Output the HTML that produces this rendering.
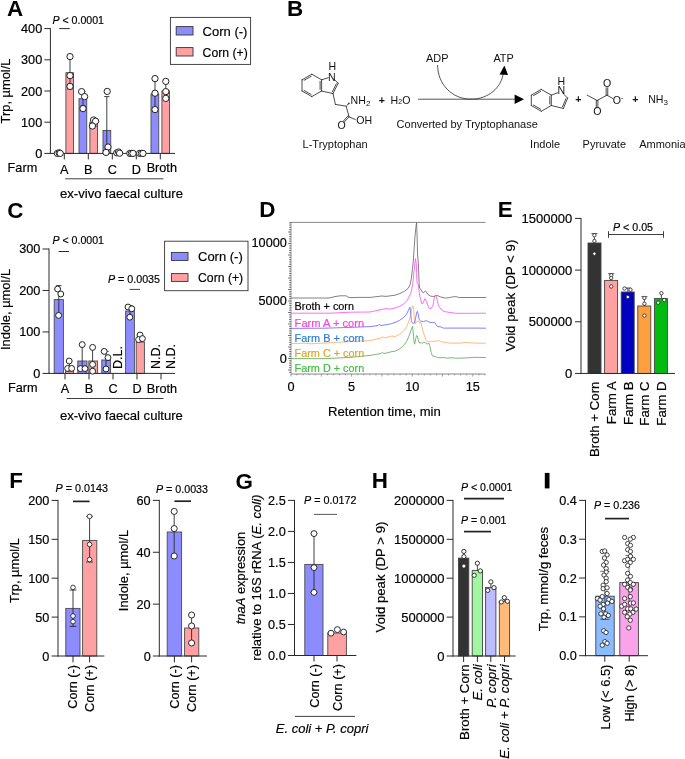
<!DOCTYPE html>
<html><head><meta charset="utf-8"><title>Figure</title>
<style>
html,body{margin:0;padding:0;background:#fff;}
svg{display:block;font-family:"Liberation Sans", sans-serif;will-change:transform;opacity:0.999;}
text{font-family:"Liberation Sans", sans-serif;}
</style></head><body>
<svg width="685" height="759" viewBox="0 0 685 759">
<rect x="0" y="0" width="685" height="759" fill="#ffffff"/>
<text x="6.90" y="16.20" font-size="22.4" text-anchor="start" fill="#000" font-weight="bold" >A</text>
<rect x="55.00" y="152.60" width="7.75" height="0.80" fill="#8c8cff" stroke="#4a4a4a" stroke-width="0.9"/>
<rect x="65.90" y="72.70" width="7.60" height="80.70" fill="#ffa0a3" stroke="#4a4a4a" stroke-width="0.9"/>
<rect x="79.00" y="98.70" width="7.75" height="54.70" fill="#8c8cff" stroke="#4a4a4a" stroke-width="0.9"/>
<rect x="89.90" y="122.20" width="7.60" height="31.20" fill="#ffa0a3" stroke="#4a4a4a" stroke-width="0.9"/>
<rect x="103.00" y="130.40" width="7.75" height="23.00" fill="#8c8cff" stroke="#4a4a4a" stroke-width="0.9"/>
<rect x="113.90" y="152.00" width="7.60" height="1.40" fill="#ffa0a3" stroke="#4a4a4a" stroke-width="0.9"/>
<rect x="151.00" y="94.00" width="7.75" height="59.40" fill="#8c8cff" stroke="#4a4a4a" stroke-width="0.9"/>
<rect x="161.90" y="91.00" width="7.60" height="62.40" fill="#ffa0a3" stroke="#4a4a4a" stroke-width="0.9"/>
<line x1="50.40" y1="28.10" x2="50.40" y2="153.90" stroke="#2a2a2a" stroke-width="1.0" stroke-linecap="butt"/>
<line x1="44.40" y1="153.40" x2="50.40" y2="153.40" stroke="#2a2a2a" stroke-width="1.0" stroke-linecap="butt"/>
<text x="42.20" y="157.90" font-size="12.7" text-anchor="end" fill="#000" stroke="#000" stroke-width="0.18" >0</text>
<line x1="44.40" y1="122.20" x2="50.40" y2="122.20" stroke="#2a2a2a" stroke-width="1.0" stroke-linecap="butt"/>
<text x="42.20" y="126.70" font-size="12.7" text-anchor="end" fill="#000" stroke="#000" stroke-width="0.18" >100</text>
<line x1="44.40" y1="91.00" x2="50.40" y2="91.00" stroke="#2a2a2a" stroke-width="1.0" stroke-linecap="butt"/>
<text x="42.20" y="95.50" font-size="12.7" text-anchor="end" fill="#000" stroke="#000" stroke-width="0.18" >200</text>
<line x1="44.40" y1="59.80" x2="50.40" y2="59.80" stroke="#2a2a2a" stroke-width="1.0" stroke-linecap="butt"/>
<text x="42.20" y="64.30" font-size="12.7" text-anchor="end" fill="#000" stroke="#000" stroke-width="0.18" >300</text>
<line x1="44.40" y1="28.60" x2="50.40" y2="28.60" stroke="#2a2a2a" stroke-width="1.0" stroke-linecap="butt"/>
<text x="42.20" y="33.10" font-size="12.7" text-anchor="end" fill="#000" stroke="#000" stroke-width="0.18" >400</text>
<line x1="49.90" y1="153.40" x2="175.00" y2="153.40" stroke="#2a2a2a" stroke-width="1.0" stroke-linecap="butt"/>
<line x1="64.30" y1="153.40" x2="64.30" y2="159.40" stroke="#2a2a2a" stroke-width="1.0" stroke-linecap="butt"/>
<line x1="88.30" y1="153.40" x2="88.30" y2="159.40" stroke="#2a2a2a" stroke-width="1.0" stroke-linecap="butt"/>
<line x1="112.30" y1="153.40" x2="112.30" y2="159.40" stroke="#2a2a2a" stroke-width="1.0" stroke-linecap="butt"/>
<line x1="136.30" y1="153.40" x2="136.30" y2="159.40" stroke="#2a2a2a" stroke-width="1.0" stroke-linecap="butt"/>
<line x1="160.30" y1="153.40" x2="160.30" y2="159.40" stroke="#2a2a2a" stroke-width="1.0" stroke-linecap="butt"/>
<line x1="70.00" y1="56.60" x2="70.00" y2="89.00" stroke="#2a2a2a" stroke-width="0.9" stroke-linecap="butt"/>
<line x1="67.40" y1="56.60" x2="72.60" y2="56.60" stroke="#2a2a2a" stroke-width="0.9" stroke-linecap="butt"/>
<line x1="67.40" y1="89.00" x2="72.60" y2="89.00" stroke="#2a2a2a" stroke-width="0.9" stroke-linecap="butt"/>
<line x1="83.00" y1="91.60" x2="83.00" y2="106.00" stroke="#2a2a2a" stroke-width="0.9" stroke-linecap="butt"/>
<line x1="80.40" y1="91.60" x2="85.60" y2="91.60" stroke="#2a2a2a" stroke-width="0.9" stroke-linecap="butt"/>
<line x1="80.40" y1="106.00" x2="85.60" y2="106.00" stroke="#2a2a2a" stroke-width="0.9" stroke-linecap="butt"/>
<line x1="94.20" y1="118.50" x2="94.20" y2="126.00" stroke="#2a2a2a" stroke-width="0.9" stroke-linecap="butt"/>
<line x1="91.60" y1="118.50" x2="96.80" y2="118.50" stroke="#2a2a2a" stroke-width="0.9" stroke-linecap="butt"/>
<line x1="91.60" y1="126.00" x2="96.80" y2="126.00" stroke="#2a2a2a" stroke-width="0.9" stroke-linecap="butt"/>
<line x1="106.80" y1="96.60" x2="106.80" y2="153.00" stroke="#2a2a2a" stroke-width="0.9" stroke-linecap="butt"/>
<line x1="104.20" y1="96.60" x2="109.40" y2="96.60" stroke="#2a2a2a" stroke-width="0.9" stroke-linecap="butt"/>
<line x1="104.20" y1="153.00" x2="109.40" y2="153.00" stroke="#2a2a2a" stroke-width="0.9" stroke-linecap="butt"/>
<line x1="155.00" y1="78.60" x2="155.00" y2="109.60" stroke="#2a2a2a" stroke-width="0.9" stroke-linecap="butt"/>
<line x1="152.40" y1="78.60" x2="157.60" y2="78.60" stroke="#2a2a2a" stroke-width="0.9" stroke-linecap="butt"/>
<line x1="152.40" y1="109.60" x2="157.60" y2="109.60" stroke="#2a2a2a" stroke-width="0.9" stroke-linecap="butt"/>
<line x1="165.80" y1="81.40" x2="165.80" y2="99.00" stroke="#2a2a2a" stroke-width="0.9" stroke-linecap="butt"/>
<line x1="163.20" y1="81.40" x2="168.40" y2="81.40" stroke="#2a2a2a" stroke-width="0.9" stroke-linecap="butt"/>
<line x1="163.20" y1="99.00" x2="168.40" y2="99.00" stroke="#2a2a2a" stroke-width="0.9" stroke-linecap="butt"/>
<circle cx="57.40" cy="153.40" r="3.15" fill="#fff" stroke="#222" stroke-width="1.0"/>
<circle cx="59.20" cy="152.80" r="3.15" fill="#fff" stroke="#222" stroke-width="1.0"/>
<circle cx="60.20" cy="153.40" r="3.15" fill="#fff" stroke="#222" stroke-width="1.0"/>
<circle cx="70.00" cy="56.60" r="3.15" fill="#fff" stroke="#222" stroke-width="1.0"/>
<circle cx="70.00" cy="75.60" r="3.15" fill="#fff" stroke="#222" stroke-width="1.0"/>
<circle cx="70.00" cy="86.40" r="3.15" fill="#fff" stroke="#222" stroke-width="1.0"/>
<circle cx="81.60" cy="91.60" r="3.15" fill="#fff" stroke="#222" stroke-width="1.0"/>
<circle cx="84.60" cy="96.60" r="3.15" fill="#fff" stroke="#222" stroke-width="1.0"/>
<circle cx="83.00" cy="108.60" r="3.15" fill="#fff" stroke="#222" stroke-width="1.0"/>
<circle cx="93.60" cy="120.00" r="3.15" fill="#fff" stroke="#222" stroke-width="1.0"/>
<circle cx="95.60" cy="121.20" r="3.15" fill="#fff" stroke="#222" stroke-width="1.0"/>
<circle cx="92.40" cy="126.00" r="3.15" fill="#fff" stroke="#222" stroke-width="1.0"/>
<circle cx="107.20" cy="91.40" r="3.15" fill="#fff" stroke="#222" stroke-width="1.0"/>
<circle cx="108.00" cy="147.00" r="3.15" fill="#fff" stroke="#222" stroke-width="1.0"/>
<circle cx="106.00" cy="152.40" r="3.15" fill="#fff" stroke="#222" stroke-width="1.0"/>
<circle cx="116.80" cy="152.80" r="3.15" fill="#fff" stroke="#222" stroke-width="1.0"/>
<circle cx="118.60" cy="152.00" r="3.15" fill="#fff" stroke="#222" stroke-width="1.0"/>
<circle cx="119.60" cy="153.20" r="3.15" fill="#fff" stroke="#222" stroke-width="1.0"/>
<circle cx="129.80" cy="153.40" r="3.15" fill="#fff" stroke="#222" stroke-width="1.0"/>
<circle cx="131.40" cy="153.40" r="3.15" fill="#fff" stroke="#222" stroke-width="1.0"/>
<circle cx="133.00" cy="153.40" r="3.15" fill="#fff" stroke="#222" stroke-width="1.0"/>
<circle cx="139.60" cy="153.40" r="3.15" fill="#fff" stroke="#222" stroke-width="1.0"/>
<circle cx="141.40" cy="153.40" r="3.15" fill="#fff" stroke="#222" stroke-width="1.0"/>
<circle cx="143.00" cy="153.40" r="3.15" fill="#fff" stroke="#222" stroke-width="1.0"/>
<circle cx="155.00" cy="78.60" r="3.15" fill="#fff" stroke="#222" stroke-width="1.0"/>
<circle cx="155.00" cy="93.20" r="3.15" fill="#fff" stroke="#222" stroke-width="1.0"/>
<circle cx="155.00" cy="109.60" r="3.15" fill="#fff" stroke="#222" stroke-width="1.0"/>
<circle cx="165.80" cy="81.40" r="3.15" fill="#fff" stroke="#222" stroke-width="1.0"/>
<circle cx="165.80" cy="91.60" r="3.15" fill="#fff" stroke="#222" stroke-width="1.0"/>
<circle cx="165.80" cy="98.40" r="3.15" fill="#fff" stroke="#222" stroke-width="1.0"/>
<text x="7.60" y="172.40" font-size="12.7" text-anchor="start" fill="#000" stroke="#000" stroke-width="0.18" >Farm</text>
<text x="64.30" y="173.80" font-size="12.7" text-anchor="middle" fill="#000" stroke="#000" stroke-width="0.18" >A</text>
<text x="88.30" y="173.80" font-size="12.7" text-anchor="middle" fill="#000" stroke="#000" stroke-width="0.18" >B</text>
<text x="112.30" y="173.80" font-size="12.7" text-anchor="middle" fill="#000" stroke="#000" stroke-width="0.18" >C</text>
<text x="136.30" y="173.80" font-size="12.7" text-anchor="middle" fill="#000" stroke="#000" stroke-width="0.18" >D</text>
<text x="161.80" y="171.70" font-size="12.7" text-anchor="middle" fill="#000" stroke="#000" stroke-width="0.18" >Broth</text>
<line x1="65.20" y1="178.80" x2="163.40" y2="178.80" stroke="#2a2a2a" stroke-width="0.9" stroke-linecap="butt"/>
<text x="60.00" y="198.40" font-size="13.1" text-anchor="start" fill="#000" stroke="#000" stroke-width="0.18" >ex-vivo faecal culture</text>
<text x="52.40" y="24.20" font-size="11.6" text-anchor="start" fill="#000" textLength="51.6" lengthAdjust="spacingAndGlyphs" stroke="#000" stroke-width="0.18" ><tspan font-style="italic">P</tspan> &lt; 0.0001</text>
<line x1="59.20" y1="28.60" x2="69.80" y2="28.60" stroke="#2a2a2a" stroke-width="1.0" stroke-linecap="butt"/>
<rect x="170.4" y="17.4" width="80.2" height="47" fill="#fff" stroke="#333" stroke-width="0.9"/>
<rect x="176.20" y="26.60" width="16.80" height="8.40" fill="#8c8cff" stroke="#333" stroke-width="0.9"/>
<rect x="176.20" y="47.60" width="16.80" height="8.40" fill="#ffa0a3" stroke="#333" stroke-width="0.9"/>
<text x="202.60" y="36.00" font-size="13" text-anchor="start" fill="#000" stroke="#000" stroke-width="0.18" >Corn (-)</text>
<text x="202.60" y="57.20" font-size="13" text-anchor="start" fill="#000" textLength="45.2" lengthAdjust="spacingAndGlyphs" stroke="#000" stroke-width="0.18" >Corn (+)</text>
<text x="10.20" y="91.00" font-size="12.9" text-anchor="middle" fill="#000" transform="rotate(-90 10.20 91.00)" stroke="#000" stroke-width="0.18" >Trp, µmol/L</text>
<text x="7.20" y="217.50" font-size="22.4" text-anchor="start" fill="#000" font-weight="bold" >C</text>
<rect x="54.20" y="299.60" width="9.20" height="73.80" fill="#8c8cff" stroke="#4a4a4a" stroke-width="0.9"/>
<rect x="65.60" y="371.00" width="8.00" height="2.40" fill="#ffa0a3" stroke="#4a4a4a" stroke-width="0.9"/>
<rect x="77.80" y="361.00" width="9.20" height="12.40" fill="#8c8cff" stroke="#4a4a4a" stroke-width="0.9"/>
<rect x="88.80" y="361.00" width="8.80" height="12.40" fill="#ffa0a3" stroke="#4a4a4a" stroke-width="0.9"/>
<rect x="101.80" y="360.00" width="8.80" height="13.40" fill="#8c8cff" stroke="#4a4a4a" stroke-width="0.9"/>
<rect x="125.60" y="311.00" width="8.80" height="62.40" fill="#8c8cff" stroke="#4a4a4a" stroke-width="0.9"/>
<rect x="136.20" y="342.00" width="8.20" height="31.40" fill="#ffa0a3" stroke="#4a4a4a" stroke-width="0.9"/>
<line x1="49.00" y1="248.50" x2="49.00" y2="373.90" stroke="#2a2a2a" stroke-width="1.0" stroke-linecap="butt"/>
<line x1="42.50" y1="373.40" x2="49.00" y2="373.40" stroke="#2a2a2a" stroke-width="1.0" stroke-linecap="butt"/>
<text x="40.30" y="377.90" font-size="12.7" text-anchor="end" fill="#000" stroke="#000" stroke-width="0.18" >0</text>
<line x1="42.50" y1="331.93" x2="49.00" y2="331.93" stroke="#2a2a2a" stroke-width="1.0" stroke-linecap="butt"/>
<text x="40.30" y="336.43" font-size="12.7" text-anchor="end" fill="#000" stroke="#000" stroke-width="0.18" >100</text>
<line x1="42.50" y1="290.46" x2="49.00" y2="290.46" stroke="#2a2a2a" stroke-width="1.0" stroke-linecap="butt"/>
<text x="40.30" y="294.96" font-size="12.7" text-anchor="end" fill="#000" stroke="#000" stroke-width="0.18" >200</text>
<line x1="42.50" y1="248.99" x2="49.00" y2="248.99" stroke="#2a2a2a" stroke-width="1.0" stroke-linecap="butt"/>
<text x="40.30" y="253.49" font-size="12.7" text-anchor="end" fill="#000" stroke="#000" stroke-width="0.18" >300</text>
<line x1="48.50" y1="373.40" x2="175.00" y2="373.40" stroke="#2a2a2a" stroke-width="1.0" stroke-linecap="butt"/>
<line x1="65.00" y1="373.40" x2="65.00" y2="379.40" stroke="#2a2a2a" stroke-width="1.0" stroke-linecap="butt"/>
<line x1="89.00" y1="373.40" x2="89.00" y2="379.40" stroke="#2a2a2a" stroke-width="1.0" stroke-linecap="butt"/>
<line x1="113.00" y1="373.40" x2="113.00" y2="379.40" stroke="#2a2a2a" stroke-width="1.0" stroke-linecap="butt"/>
<line x1="137.00" y1="373.40" x2="137.00" y2="379.40" stroke="#2a2a2a" stroke-width="1.0" stroke-linecap="butt"/>
<line x1="161.00" y1="373.40" x2="161.00" y2="379.40" stroke="#2a2a2a" stroke-width="1.0" stroke-linecap="butt"/>
<line x1="58.80" y1="285.60" x2="58.80" y2="314.00" stroke="#2a2a2a" stroke-width="0.9" stroke-linecap="butt"/>
<line x1="56.20" y1="285.60" x2="61.40" y2="285.60" stroke="#2a2a2a" stroke-width="0.9" stroke-linecap="butt"/>
<line x1="56.20" y1="314.00" x2="61.40" y2="314.00" stroke="#2a2a2a" stroke-width="0.9" stroke-linecap="butt"/>
<line x1="69.40" y1="361.00" x2="69.40" y2="371.00" stroke="#2a2a2a" stroke-width="0.9" stroke-linecap="butt"/>
<line x1="66.80" y1="361.00" x2="72.00" y2="361.00" stroke="#2a2a2a" stroke-width="0.9" stroke-linecap="butt"/>
<line x1="66.80" y1="371.00" x2="72.00" y2="371.00" stroke="#2a2a2a" stroke-width="0.9" stroke-linecap="butt"/>
<line x1="82.20" y1="344.60" x2="82.20" y2="368.00" stroke="#2a2a2a" stroke-width="0.9" stroke-linecap="butt"/>
<line x1="79.60" y1="344.60" x2="84.80" y2="344.60" stroke="#2a2a2a" stroke-width="0.9" stroke-linecap="butt"/>
<line x1="79.60" y1="368.00" x2="84.80" y2="368.00" stroke="#2a2a2a" stroke-width="0.9" stroke-linecap="butt"/>
<line x1="92.60" y1="347.40" x2="92.60" y2="371.00" stroke="#2a2a2a" stroke-width="0.9" stroke-linecap="butt"/>
<line x1="90.00" y1="347.40" x2="95.20" y2="347.40" stroke="#2a2a2a" stroke-width="0.9" stroke-linecap="butt"/>
<line x1="90.00" y1="371.00" x2="95.20" y2="371.00" stroke="#2a2a2a" stroke-width="0.9" stroke-linecap="butt"/>
<line x1="106.00" y1="351.40" x2="106.00" y2="368.00" stroke="#2a2a2a" stroke-width="0.9" stroke-linecap="butt"/>
<line x1="103.40" y1="351.40" x2="108.60" y2="351.40" stroke="#2a2a2a" stroke-width="0.9" stroke-linecap="butt"/>
<line x1="103.40" y1="368.00" x2="108.60" y2="368.00" stroke="#2a2a2a" stroke-width="0.9" stroke-linecap="butt"/>
<line x1="130.00" y1="305.50" x2="130.00" y2="317.00" stroke="#2a2a2a" stroke-width="0.9" stroke-linecap="butt"/>
<line x1="127.40" y1="305.50" x2="132.60" y2="305.50" stroke="#2a2a2a" stroke-width="0.9" stroke-linecap="butt"/>
<line x1="127.40" y1="317.00" x2="132.60" y2="317.00" stroke="#2a2a2a" stroke-width="0.9" stroke-linecap="butt"/>
<line x1="140.40" y1="335.00" x2="140.40" y2="341.00" stroke="#2a2a2a" stroke-width="0.9" stroke-linecap="butt"/>
<line x1="137.80" y1="335.00" x2="143.00" y2="335.00" stroke="#2a2a2a" stroke-width="0.9" stroke-linecap="butt"/>
<line x1="137.80" y1="341.00" x2="143.00" y2="341.00" stroke="#2a2a2a" stroke-width="0.9" stroke-linecap="butt"/>
<circle cx="57.60" cy="289.00" r="2.95" fill="#fff" stroke="#222" stroke-width="1.0"/>
<circle cx="60.80" cy="294.00" r="2.95" fill="#fff" stroke="#222" stroke-width="1.0"/>
<circle cx="58.60" cy="315.40" r="2.95" fill="#fff" stroke="#222" stroke-width="1.0"/>
<circle cx="69.20" cy="361.00" r="2.95" fill="#fff" stroke="#222" stroke-width="1.0"/>
<circle cx="67.60" cy="368.40" r="2.95" fill="#fff" stroke="#222" stroke-width="1.0"/>
<circle cx="71.60" cy="368.40" r="2.95" fill="#fff" stroke="#222" stroke-width="1.0"/>
<circle cx="82.20" cy="344.60" r="2.95" fill="#fff" stroke="#222" stroke-width="1.0"/>
<circle cx="80.40" cy="368.60" r="2.95" fill="#fff" stroke="#222" stroke-width="1.0"/>
<circle cx="85.00" cy="368.60" r="2.95" fill="#fff" stroke="#222" stroke-width="1.0"/>
<circle cx="92.60" cy="347.40" r="2.95" fill="#fff" stroke="#222" stroke-width="1.0"/>
<circle cx="92.60" cy="364.40" r="2.95" fill="#fff" stroke="#222" stroke-width="1.0"/>
<circle cx="92.60" cy="371.20" r="2.95" fill="#fff" stroke="#222" stroke-width="1.0"/>
<circle cx="104.20" cy="351.40" r="2.95" fill="#fff" stroke="#222" stroke-width="1.0"/>
<circle cx="108.00" cy="357.60" r="2.95" fill="#fff" stroke="#222" stroke-width="1.0"/>
<circle cx="106.00" cy="369.00" r="2.95" fill="#fff" stroke="#222" stroke-width="1.0"/>
<circle cx="128.00" cy="307.00" r="2.95" fill="#fff" stroke="#222" stroke-width="1.0"/>
<circle cx="131.80" cy="308.80" r="2.95" fill="#fff" stroke="#222" stroke-width="1.0"/>
<circle cx="129.80" cy="317.20" r="2.95" fill="#fff" stroke="#222" stroke-width="1.0"/>
<circle cx="140.00" cy="335.00" r="2.95" fill="#fff" stroke="#222" stroke-width="1.0"/>
<circle cx="138.60" cy="339.60" r="2.95" fill="#fff" stroke="#222" stroke-width="1.0"/>
<circle cx="142.40" cy="338.60" r="2.95" fill="#fff" stroke="#222" stroke-width="1.0"/>
<text x="121.60" y="369.00" font-size="12.5" text-anchor="start" fill="#000" transform="rotate(-90 121.60 369.00)" stroke="#000" stroke-width="0.18" >D.L.</text>
<text x="159.80" y="369.00" font-size="12.5" text-anchor="start" fill="#000" transform="rotate(-90 159.80 369.00)" stroke="#000" stroke-width="0.18" >N.D.</text>
<text x="174.60" y="369.00" font-size="12.5" text-anchor="start" fill="#000" transform="rotate(-90 174.60 369.00)" stroke="#000" stroke-width="0.18" >N.D.</text>
<text x="7.90" y="391.50" font-size="12.7" text-anchor="start" fill="#000" stroke="#000" stroke-width="0.18" >Farm</text>
<text x="65.00" y="392.60" font-size="12.7" text-anchor="middle" fill="#000" stroke="#000" stroke-width="0.18" >A</text>
<text x="89.00" y="392.60" font-size="12.7" text-anchor="middle" fill="#000" stroke="#000" stroke-width="0.18" >B</text>
<text x="113.00" y="392.60" font-size="12.7" text-anchor="middle" fill="#000" stroke="#000" stroke-width="0.18" >C</text>
<text x="137.00" y="392.60" font-size="12.7" text-anchor="middle" fill="#000" stroke="#000" stroke-width="0.18" >D</text>
<text x="162.00" y="392.60" font-size="12.7" text-anchor="middle" fill="#000" stroke="#000" stroke-width="0.18" >Broth</text>
<line x1="66.60" y1="398.50" x2="163.50" y2="398.50" stroke="#2a2a2a" stroke-width="0.9" stroke-linecap="butt"/>
<text x="59.90" y="419.90" font-size="13.1" text-anchor="start" fill="#000" stroke="#000" stroke-width="0.18" >ex-vivo faecal culture</text>
<text x="52.40" y="244.40" font-size="11.6" text-anchor="start" fill="#000" textLength="51.6" lengthAdjust="spacingAndGlyphs" stroke="#000" stroke-width="0.18" ><tspan font-style="italic">P</tspan> &lt; 0.0001</text>
<line x1="58.60" y1="251.50" x2="69.00" y2="251.50" stroke="#2a2a2a" stroke-width="1.0" stroke-linecap="butt"/>
<text x="108.00" y="283.40" font-size="11.6" text-anchor="start" fill="#000" textLength="52" lengthAdjust="spacingAndGlyphs" stroke="#000" stroke-width="0.18" ><tspan font-style="italic">P</tspan> = 0.0035</text>
<line x1="129.60" y1="289.40" x2="140.00" y2="289.40" stroke="#2a2a2a" stroke-width="0.9" stroke-linecap="butt"/>
<rect x="164.6" y="241.2" width="83.4" height="49.5" fill="#fff" stroke="#333" stroke-width="0.9"/>
<rect x="171.40" y="252.40" width="16.60" height="8.00" fill="#8c8cff" stroke="#333" stroke-width="0.9"/>
<rect x="171.40" y="273.60" width="16.60" height="7.80" fill="#ffa0a3" stroke="#333" stroke-width="0.9"/>
<text x="198.00" y="261.20" font-size="13" text-anchor="start" fill="#000" stroke="#000" stroke-width="0.18" >Corn (-)</text>
<text x="198.00" y="282.40" font-size="13" text-anchor="start" fill="#000" textLength="45.2" lengthAdjust="spacingAndGlyphs" stroke="#000" stroke-width="0.18" >Corn (+)</text>
<text x="10.20" y="309.50" font-size="12.9" text-anchor="middle" fill="#000" transform="rotate(-90 10.20 309.50)" stroke="#000" stroke-width="0.18" >Indole, µmol/L</text>
<text x="287.00" y="16.20" font-size="22.4" text-anchor="start" fill="#000" font-weight="bold" >B</text>
<line x1="302.00" y1="79.80" x2="311.80" y2="74.20" stroke="#2a2a2a" stroke-width="0.85" stroke-linecap="round"/>
<line x1="311.80" y1="74.20" x2="321.60" y2="79.80" stroke="#2a2a2a" stroke-width="0.85" stroke-linecap="round"/>
<line x1="321.60" y1="79.80" x2="321.60" y2="91.00" stroke="#2a2a2a" stroke-width="0.85" stroke-linecap="round"/>
<line x1="321.60" y1="91.00" x2="311.80" y2="96.60" stroke="#2a2a2a" stroke-width="0.85" stroke-linecap="round"/>
<line x1="311.80" y1="96.60" x2="302.00" y2="91.00" stroke="#2a2a2a" stroke-width="0.85" stroke-linecap="round"/>
<line x1="302.00" y1="91.00" x2="302.00" y2="79.80" stroke="#2a2a2a" stroke-width="0.85" stroke-linecap="round"/>
<line x1="304.12" y1="80.32" x2="311.17" y2="76.29" stroke="#2a2a2a" stroke-width="0.85" stroke-linecap="round"/>
<line x1="320.10" y1="81.37" x2="320.10" y2="89.43" stroke="#2a2a2a" stroke-width="0.85" stroke-linecap="round"/>
<line x1="311.17" y1="94.51" x2="304.12" y2="90.48" stroke="#2a2a2a" stroke-width="0.85" stroke-linecap="round"/>
<line x1="321.60" y1="79.80" x2="328.26" y2="77.76" stroke="#2a2a2a" stroke-width="0.85" stroke-linecap="round"/>
<line x1="333.85" y1="79.10" x2="338.20" y2="83.20" stroke="#2a2a2a" stroke-width="0.85" stroke-linecap="round"/>
<line x1="338.20" y1="83.20" x2="333.00" y2="93.60" stroke="#2a2a2a" stroke-width="0.85" stroke-linecap="round"/>
<line x1="333.00" y1="93.60" x2="321.60" y2="91.00" stroke="#2a2a2a" stroke-width="0.85" stroke-linecap="round"/>
<line x1="336.32" y1="83.82" x2="332.37" y2="91.73" stroke="#2a2a2a" stroke-width="0.85" stroke-linecap="round"/>
<line x1="333.00" y1="93.60" x2="335.40" y2="104.40" stroke="#2a2a2a" stroke-width="0.85" stroke-linecap="round"/>
<line x1="335.40" y1="104.40" x2="346.20" y2="106.20" stroke="#2a2a2a" stroke-width="0.85" stroke-linecap="round"/>
<line x1="346.20" y1="106.20" x2="349.00" y2="116.80" stroke="#2a2a2a" stroke-width="0.85" stroke-linecap="round"/>
<polygon points="346.20,106.20 348.90,102.20 349.90,103.50" fill="#2a2a2a"/>
<line x1="349.00" y1="116.80" x2="344.40" y2="122.00" stroke="#2a2a2a" stroke-width="0.85" stroke-linecap="round"/>
<line x1="348.10" y1="115.70" x2="343.50" y2="120.90" stroke="#2a2a2a" stroke-width="0.85" stroke-linecap="round"/>
<line x1="349.00" y1="116.80" x2="355.40" y2="119.60" stroke="#2a2a2a" stroke-width="0.85" stroke-linecap="round"/>
<text x="328.00" y="80.70" font-size="10.6" text-anchor="start" fill="#111" >N</text>
<text x="328.40" y="70.20" font-size="10.6" text-anchor="start" fill="#111" >H</text>
<text x="350.60" y="103.60" font-size="10.6" text-anchor="start" fill="#111" >NH<tspan font-size="8" dy="2.4">2</tspan></text>
<text x="356.20" y="124.40" font-size="10.6" text-anchor="start" fill="#111" >OH</text>
<text x="337.40" y="129.40" font-size="10.6" text-anchor="start" fill="#111" >O</text>
<text x="378.80" y="103.60" font-size="10.6" text-anchor="start" fill="#111" font-weight="bold" >+</text>
<text x="390.60" y="103.60" font-size="10.6" text-anchor="start" fill="#111" >H<tspan font-size="7" dy="0.5">2</tspan><tspan dy="-0.5">O</tspan></text>
<text x="302.60" y="148.00" font-size="11" text-anchor="start" fill="#111" >L-Tryptophan</text>
<line x1="418.00" y1="99.20" x2="516.00" y2="99.20" stroke="#2a2a2a" stroke-width="0.8" stroke-linecap="butt"/>
<polygon points="524,99.2 514.6,94.4 514.6,104" fill="#000"/>
<path d="M437.6 65 C 437.6 84, 452 99.2, 471 99.2 C 488 99.2, 501.5 88, 503.4 72.5" fill="none" stroke="#2a2a2a" stroke-width="0.8"/>
<polygon points="504.4,65.6 499.6,74.4 508,75" fill="#000"/>
<text x="426.00" y="61.60" font-size="10.9" text-anchor="start" fill="#111" >ADP</text>
<text x="493.40" y="61.60" font-size="10.9" text-anchor="start" fill="#111" >ATP</text>
<text x="396.60" y="128.00" font-size="11" text-anchor="start" fill="#111" >Converted by Tryptophanase</text>
<line x1="531.32" y1="95.16" x2="541.20" y2="89.38" stroke="#2a2a2a" stroke-width="0.85" stroke-linecap="round"/>
<line x1="541.20" y1="89.38" x2="551.31" y2="95.16" stroke="#2a2a2a" stroke-width="0.85" stroke-linecap="round"/>
<line x1="551.31" y1="95.16" x2="551.31" y2="105.52" stroke="#2a2a2a" stroke-width="0.85" stroke-linecap="round"/>
<line x1="551.31" y1="105.52" x2="541.20" y2="111.30" stroke="#2a2a2a" stroke-width="0.85" stroke-linecap="round"/>
<line x1="541.20" y1="111.30" x2="531.32" y2="105.52" stroke="#2a2a2a" stroke-width="0.85" stroke-linecap="round"/>
<line x1="531.32" y1="105.52" x2="531.32" y2="95.16" stroke="#2a2a2a" stroke-width="0.85" stroke-linecap="round"/>
<line x1="533.46" y1="95.65" x2="540.57" y2="91.48" stroke="#2a2a2a" stroke-width="0.85" stroke-linecap="round"/>
<line x1="549.81" y1="96.61" x2="549.81" y2="104.07" stroke="#2a2a2a" stroke-width="0.85" stroke-linecap="round"/>
<line x1="540.57" y1="109.20" x2="533.46" y2="105.03" stroke="#2a2a2a" stroke-width="0.85" stroke-linecap="round"/>
<line x1="551.31" y1="95.16" x2="557.67" y2="92.78" stroke="#2a2a2a" stroke-width="0.85" stroke-linecap="round"/>
<line x1="563.51" y1="94.02" x2="567.69" y2="98.05" stroke="#2a2a2a" stroke-width="0.85" stroke-linecap="round"/>
<line x1="567.69" y1="98.05" x2="563.36" y2="108.41" stroke="#2a2a2a" stroke-width="0.85" stroke-linecap="round"/>
<line x1="563.36" y1="108.41" x2="551.31" y2="105.52" stroke="#2a2a2a" stroke-width="0.85" stroke-linecap="round"/>
<line x1="565.88" y1="98.75" x2="562.59" y2="106.63" stroke="#2a2a2a" stroke-width="0.85" stroke-linecap="round"/>
<text x="557.58" y="94.44" font-size="10.6" text-anchor="start" fill="#111" >N</text>
<text x="557.58" y="84.56" font-size="10.6" text-anchor="start" fill="#111" >H</text>
<text x="575.16" y="102.63" font-size="10.6" text-anchor="start" fill="#111" font-weight="bold" >+</text>
<line x1="587.20" y1="95.16" x2="597.08" y2="100.46" stroke="#2a2a2a" stroke-width="0.85" stroke-linecap="round"/>
<line x1="597.08" y1="100.46" x2="606.96" y2="95.16" stroke="#2a2a2a" stroke-width="0.85" stroke-linecap="round"/>
<line x1="606.96" y1="95.16" x2="612.74" y2="98.53" stroke="#2a2a2a" stroke-width="0.85" stroke-linecap="round"/>
<line x1="596.28" y1="100.46" x2="596.28" y2="107.93" stroke="#2a2a2a" stroke-width="0.85" stroke-linecap="round"/>
<line x1="597.88" y1="100.46" x2="597.88" y2="107.93" stroke="#2a2a2a" stroke-width="0.85" stroke-linecap="round"/>
<line x1="606.16" y1="95.16" x2="606.16" y2="87.69" stroke="#2a2a2a" stroke-width="0.85" stroke-linecap="round"/>
<line x1="607.76" y1="95.16" x2="607.76" y2="87.69" stroke="#2a2a2a" stroke-width="0.85" stroke-linecap="round"/>
<text x="593.23" y="115.39" font-size="10.6" text-anchor="start" fill="#111" >O</text>
<text x="603.10" y="87.45" font-size="10.6" text-anchor="start" fill="#111" >O</text>
<text x="612.74" y="104.07" font-size="10.6" text-anchor="start" fill="#111" >O<tspan font-size="7.4" dy="-4.5">-</tspan></text>
<text x="632.25" y="102.63" font-size="10.6" text-anchor="start" fill="#111" font-weight="bold" >+</text>
<text x="648.15" y="102.63" font-size="10.6" text-anchor="start" fill="#111" >NH<tspan font-size="8" dy="2.4">3</tspan></text>
<text x="530.10" y="147.80" font-size="11" text-anchor="start" fill="#111" >Indole</text>
<text x="582.60" y="147.80" font-size="11" text-anchor="start" fill="#111" >Pyruvate</text>
<text x="639.20" y="147.80" font-size="11" text-anchor="start" fill="#111" >Ammonia</text>
<text x="259.20" y="216.50" font-size="22.4" text-anchor="start" fill="#000" font-weight="bold" >D</text>
<line x1="291.00" y1="222.40" x2="291.00" y2="374.00" stroke="#999" stroke-width="0.8" stroke-linecap="butt"/>
<line x1="290.60" y1="222.40" x2="485.60" y2="222.40" stroke="#7a7a7a" stroke-width="0.9" stroke-linecap="butt"/>
<line x1="290.60" y1="374.00" x2="485.60" y2="374.00" stroke="#7a7a7a" stroke-width="0.9" stroke-linecap="butt"/>
<line x1="289.10" y1="372.30" x2="291.30" y2="372.30" stroke="#4a4a4a" stroke-width="0.8" stroke-linecap="butt"/>
<line x1="288.10" y1="370.00" x2="291.30" y2="370.00" stroke="#4a4a4a" stroke-width="0.8" stroke-linecap="butt"/>
<line x1="289.10" y1="367.70" x2="291.30" y2="367.70" stroke="#4a4a4a" stroke-width="0.8" stroke-linecap="butt"/>
<line x1="289.10" y1="365.40" x2="291.30" y2="365.40" stroke="#4a4a4a" stroke-width="0.8" stroke-linecap="butt"/>
<line x1="289.10" y1="363.10" x2="291.30" y2="363.10" stroke="#4a4a4a" stroke-width="0.8" stroke-linecap="butt"/>
<line x1="289.10" y1="360.80" x2="291.30" y2="360.80" stroke="#4a4a4a" stroke-width="0.8" stroke-linecap="butt"/>
<line x1="288.10" y1="358.50" x2="291.30" y2="358.50" stroke="#4a4a4a" stroke-width="0.8" stroke-linecap="butt"/>
<line x1="289.10" y1="356.20" x2="291.30" y2="356.20" stroke="#4a4a4a" stroke-width="0.8" stroke-linecap="butt"/>
<line x1="289.10" y1="353.90" x2="291.30" y2="353.90" stroke="#4a4a4a" stroke-width="0.8" stroke-linecap="butt"/>
<line x1="289.10" y1="351.60" x2="291.30" y2="351.60" stroke="#4a4a4a" stroke-width="0.8" stroke-linecap="butt"/>
<line x1="289.10" y1="349.30" x2="291.30" y2="349.30" stroke="#4a4a4a" stroke-width="0.8" stroke-linecap="butt"/>
<line x1="288.10" y1="347.00" x2="291.30" y2="347.00" stroke="#4a4a4a" stroke-width="0.8" stroke-linecap="butt"/>
<line x1="289.10" y1="344.70" x2="291.30" y2="344.70" stroke="#4a4a4a" stroke-width="0.8" stroke-linecap="butt"/>
<line x1="289.10" y1="342.40" x2="291.30" y2="342.40" stroke="#4a4a4a" stroke-width="0.8" stroke-linecap="butt"/>
<line x1="289.10" y1="340.10" x2="291.30" y2="340.10" stroke="#4a4a4a" stroke-width="0.8" stroke-linecap="butt"/>
<line x1="289.10" y1="337.80" x2="291.30" y2="337.80" stroke="#4a4a4a" stroke-width="0.8" stroke-linecap="butt"/>
<line x1="288.10" y1="335.50" x2="291.30" y2="335.50" stroke="#4a4a4a" stroke-width="0.8" stroke-linecap="butt"/>
<line x1="289.10" y1="333.20" x2="291.30" y2="333.20" stroke="#4a4a4a" stroke-width="0.8" stroke-linecap="butt"/>
<line x1="289.10" y1="330.90" x2="291.30" y2="330.90" stroke="#4a4a4a" stroke-width="0.8" stroke-linecap="butt"/>
<line x1="289.10" y1="328.60" x2="291.30" y2="328.60" stroke="#4a4a4a" stroke-width="0.8" stroke-linecap="butt"/>
<line x1="289.10" y1="326.30" x2="291.30" y2="326.30" stroke="#4a4a4a" stroke-width="0.8" stroke-linecap="butt"/>
<line x1="288.10" y1="324.00" x2="291.30" y2="324.00" stroke="#4a4a4a" stroke-width="0.8" stroke-linecap="butt"/>
<line x1="289.10" y1="321.70" x2="291.30" y2="321.70" stroke="#4a4a4a" stroke-width="0.8" stroke-linecap="butt"/>
<line x1="289.10" y1="319.40" x2="291.30" y2="319.40" stroke="#4a4a4a" stroke-width="0.8" stroke-linecap="butt"/>
<line x1="289.10" y1="317.10" x2="291.30" y2="317.10" stroke="#4a4a4a" stroke-width="0.8" stroke-linecap="butt"/>
<line x1="289.10" y1="314.80" x2="291.30" y2="314.80" stroke="#4a4a4a" stroke-width="0.8" stroke-linecap="butt"/>
<line x1="288.10" y1="312.50" x2="291.30" y2="312.50" stroke="#4a4a4a" stroke-width="0.8" stroke-linecap="butt"/>
<line x1="289.10" y1="310.20" x2="291.30" y2="310.20" stroke="#4a4a4a" stroke-width="0.8" stroke-linecap="butt"/>
<line x1="289.10" y1="307.90" x2="291.30" y2="307.90" stroke="#4a4a4a" stroke-width="0.8" stroke-linecap="butt"/>
<line x1="289.10" y1="305.60" x2="291.30" y2="305.60" stroke="#4a4a4a" stroke-width="0.8" stroke-linecap="butt"/>
<line x1="289.10" y1="303.30" x2="291.30" y2="303.30" stroke="#4a4a4a" stroke-width="0.8" stroke-linecap="butt"/>
<line x1="288.10" y1="301.00" x2="291.30" y2="301.00" stroke="#4a4a4a" stroke-width="0.8" stroke-linecap="butt"/>
<line x1="289.10" y1="298.70" x2="291.30" y2="298.70" stroke="#4a4a4a" stroke-width="0.8" stroke-linecap="butt"/>
<line x1="289.10" y1="296.40" x2="291.30" y2="296.40" stroke="#4a4a4a" stroke-width="0.8" stroke-linecap="butt"/>
<line x1="289.10" y1="294.10" x2="291.30" y2="294.10" stroke="#4a4a4a" stroke-width="0.8" stroke-linecap="butt"/>
<line x1="289.10" y1="291.80" x2="291.30" y2="291.80" stroke="#4a4a4a" stroke-width="0.8" stroke-linecap="butt"/>
<line x1="288.10" y1="289.50" x2="291.30" y2="289.50" stroke="#4a4a4a" stroke-width="0.8" stroke-linecap="butt"/>
<line x1="289.10" y1="287.20" x2="291.30" y2="287.20" stroke="#4a4a4a" stroke-width="0.8" stroke-linecap="butt"/>
<line x1="289.10" y1="284.90" x2="291.30" y2="284.90" stroke="#4a4a4a" stroke-width="0.8" stroke-linecap="butt"/>
<line x1="289.10" y1="282.60" x2="291.30" y2="282.60" stroke="#4a4a4a" stroke-width="0.8" stroke-linecap="butt"/>
<line x1="289.10" y1="280.30" x2="291.30" y2="280.30" stroke="#4a4a4a" stroke-width="0.8" stroke-linecap="butt"/>
<line x1="288.10" y1="278.00" x2="291.30" y2="278.00" stroke="#4a4a4a" stroke-width="0.8" stroke-linecap="butt"/>
<line x1="289.10" y1="275.70" x2="291.30" y2="275.70" stroke="#4a4a4a" stroke-width="0.8" stroke-linecap="butt"/>
<line x1="289.10" y1="273.40" x2="291.30" y2="273.40" stroke="#4a4a4a" stroke-width="0.8" stroke-linecap="butt"/>
<line x1="289.10" y1="271.10" x2="291.30" y2="271.10" stroke="#4a4a4a" stroke-width="0.8" stroke-linecap="butt"/>
<line x1="289.10" y1="268.80" x2="291.30" y2="268.80" stroke="#4a4a4a" stroke-width="0.8" stroke-linecap="butt"/>
<line x1="288.10" y1="266.50" x2="291.30" y2="266.50" stroke="#4a4a4a" stroke-width="0.8" stroke-linecap="butt"/>
<line x1="289.10" y1="264.20" x2="291.30" y2="264.20" stroke="#4a4a4a" stroke-width="0.8" stroke-linecap="butt"/>
<line x1="289.10" y1="261.90" x2="291.30" y2="261.90" stroke="#4a4a4a" stroke-width="0.8" stroke-linecap="butt"/>
<line x1="289.10" y1="259.60" x2="291.30" y2="259.60" stroke="#4a4a4a" stroke-width="0.8" stroke-linecap="butt"/>
<line x1="289.10" y1="257.30" x2="291.30" y2="257.30" stroke="#4a4a4a" stroke-width="0.8" stroke-linecap="butt"/>
<line x1="288.10" y1="255.00" x2="291.30" y2="255.00" stroke="#4a4a4a" stroke-width="0.8" stroke-linecap="butt"/>
<line x1="289.10" y1="252.70" x2="291.30" y2="252.70" stroke="#4a4a4a" stroke-width="0.8" stroke-linecap="butt"/>
<line x1="289.10" y1="250.40" x2="291.30" y2="250.40" stroke="#4a4a4a" stroke-width="0.8" stroke-linecap="butt"/>
<line x1="289.10" y1="248.10" x2="291.30" y2="248.10" stroke="#4a4a4a" stroke-width="0.8" stroke-linecap="butt"/>
<line x1="289.10" y1="245.80" x2="291.30" y2="245.80" stroke="#4a4a4a" stroke-width="0.8" stroke-linecap="butt"/>
<line x1="288.10" y1="243.50" x2="291.30" y2="243.50" stroke="#4a4a4a" stroke-width="0.8" stroke-linecap="butt"/>
<line x1="289.10" y1="241.20" x2="291.30" y2="241.20" stroke="#4a4a4a" stroke-width="0.8" stroke-linecap="butt"/>
<line x1="289.10" y1="238.90" x2="291.30" y2="238.90" stroke="#4a4a4a" stroke-width="0.8" stroke-linecap="butt"/>
<line x1="289.10" y1="236.60" x2="291.30" y2="236.60" stroke="#4a4a4a" stroke-width="0.8" stroke-linecap="butt"/>
<line x1="289.10" y1="234.30" x2="291.30" y2="234.30" stroke="#4a4a4a" stroke-width="0.8" stroke-linecap="butt"/>
<line x1="288.10" y1="232.00" x2="291.30" y2="232.00" stroke="#4a4a4a" stroke-width="0.8" stroke-linecap="butt"/>
<line x1="289.10" y1="229.70" x2="291.30" y2="229.70" stroke="#4a4a4a" stroke-width="0.8" stroke-linecap="butt"/>
<line x1="289.10" y1="227.40" x2="291.30" y2="227.40" stroke="#4a4a4a" stroke-width="0.8" stroke-linecap="butt"/>
<line x1="289.10" y1="225.10" x2="291.30" y2="225.10" stroke="#4a4a4a" stroke-width="0.8" stroke-linecap="butt"/>
<line x1="289.10" y1="222.80" x2="291.30" y2="222.80" stroke="#4a4a4a" stroke-width="0.8" stroke-linecap="butt"/>
<line x1="291.00" y1="374.00" x2="291.00" y2="376.60" stroke="#666" stroke-width="0.6" stroke-linecap="butt"/>
<line x1="297.06" y1="374.00" x2="297.06" y2="375.40" stroke="#666" stroke-width="0.6" stroke-linecap="butt"/>
<line x1="303.12" y1="374.00" x2="303.12" y2="375.40" stroke="#666" stroke-width="0.6" stroke-linecap="butt"/>
<line x1="309.18" y1="374.00" x2="309.18" y2="375.40" stroke="#666" stroke-width="0.6" stroke-linecap="butt"/>
<line x1="315.24" y1="374.00" x2="315.24" y2="375.40" stroke="#666" stroke-width="0.6" stroke-linecap="butt"/>
<line x1="321.30" y1="374.00" x2="321.30" y2="376.60" stroke="#666" stroke-width="0.6" stroke-linecap="butt"/>
<line x1="327.36" y1="374.00" x2="327.36" y2="375.40" stroke="#666" stroke-width="0.6" stroke-linecap="butt"/>
<line x1="333.42" y1="374.00" x2="333.42" y2="375.40" stroke="#666" stroke-width="0.6" stroke-linecap="butt"/>
<line x1="339.48" y1="374.00" x2="339.48" y2="375.40" stroke="#666" stroke-width="0.6" stroke-linecap="butt"/>
<line x1="345.54" y1="374.00" x2="345.54" y2="375.40" stroke="#666" stroke-width="0.6" stroke-linecap="butt"/>
<line x1="351.60" y1="374.00" x2="351.60" y2="376.60" stroke="#666" stroke-width="0.6" stroke-linecap="butt"/>
<line x1="357.66" y1="374.00" x2="357.66" y2="375.40" stroke="#666" stroke-width="0.6" stroke-linecap="butt"/>
<line x1="363.72" y1="374.00" x2="363.72" y2="375.40" stroke="#666" stroke-width="0.6" stroke-linecap="butt"/>
<line x1="369.78" y1="374.00" x2="369.78" y2="375.40" stroke="#666" stroke-width="0.6" stroke-linecap="butt"/>
<line x1="375.84" y1="374.00" x2="375.84" y2="375.40" stroke="#666" stroke-width="0.6" stroke-linecap="butt"/>
<line x1="381.90" y1="374.00" x2="381.90" y2="376.60" stroke="#666" stroke-width="0.6" stroke-linecap="butt"/>
<line x1="387.96" y1="374.00" x2="387.96" y2="375.40" stroke="#666" stroke-width="0.6" stroke-linecap="butt"/>
<line x1="394.02" y1="374.00" x2="394.02" y2="375.40" stroke="#666" stroke-width="0.6" stroke-linecap="butt"/>
<line x1="400.08" y1="374.00" x2="400.08" y2="375.40" stroke="#666" stroke-width="0.6" stroke-linecap="butt"/>
<line x1="406.14" y1="374.00" x2="406.14" y2="375.40" stroke="#666" stroke-width="0.6" stroke-linecap="butt"/>
<line x1="412.20" y1="374.00" x2="412.20" y2="376.60" stroke="#666" stroke-width="0.6" stroke-linecap="butt"/>
<line x1="418.26" y1="374.00" x2="418.26" y2="375.40" stroke="#666" stroke-width="0.6" stroke-linecap="butt"/>
<line x1="424.32" y1="374.00" x2="424.32" y2="375.40" stroke="#666" stroke-width="0.6" stroke-linecap="butt"/>
<line x1="430.38" y1="374.00" x2="430.38" y2="375.40" stroke="#666" stroke-width="0.6" stroke-linecap="butt"/>
<line x1="436.44" y1="374.00" x2="436.44" y2="375.40" stroke="#666" stroke-width="0.6" stroke-linecap="butt"/>
<line x1="442.50" y1="374.00" x2="442.50" y2="376.60" stroke="#666" stroke-width="0.6" stroke-linecap="butt"/>
<line x1="448.56" y1="374.00" x2="448.56" y2="375.40" stroke="#666" stroke-width="0.6" stroke-linecap="butt"/>
<line x1="454.62" y1="374.00" x2="454.62" y2="375.40" stroke="#666" stroke-width="0.6" stroke-linecap="butt"/>
<line x1="460.68" y1="374.00" x2="460.68" y2="375.40" stroke="#666" stroke-width="0.6" stroke-linecap="butt"/>
<line x1="466.74" y1="374.00" x2="466.74" y2="375.40" stroke="#666" stroke-width="0.6" stroke-linecap="butt"/>
<line x1="472.80" y1="374.00" x2="472.80" y2="376.60" stroke="#666" stroke-width="0.6" stroke-linecap="butt"/>
<line x1="478.86" y1="374.00" x2="478.86" y2="375.40" stroke="#666" stroke-width="0.6" stroke-linecap="butt"/>
<line x1="484.92" y1="374.00" x2="484.92" y2="375.40" stroke="#666" stroke-width="0.6" stroke-linecap="butt"/>
<text x="286.80" y="363.30" font-size="12.7" text-anchor="end" fill="#000" stroke="#000" stroke-width="0.18" >0</text>
<text x="286.80" y="305.30" font-size="12.7" text-anchor="end" fill="#000" stroke="#000" stroke-width="0.18" >5000</text>
<text x="286.80" y="247.30" font-size="12.7" text-anchor="end" fill="#000" stroke="#000" stroke-width="0.18" >10000</text>
<text x="291.00" y="391.00" font-size="12.7" text-anchor="middle" fill="#000" stroke="#000" stroke-width="0.18" >0</text>
<text x="351.60" y="391.00" font-size="12.7" text-anchor="middle" fill="#000" stroke="#000" stroke-width="0.18" >5</text>
<text x="412.20" y="391.00" font-size="12.7" text-anchor="middle" fill="#000" stroke="#000" stroke-width="0.18" >10</text>
<text x="472.80" y="391.00" font-size="12.7" text-anchor="middle" fill="#000" stroke="#000" stroke-width="0.18" >15</text>
<text x="328.00" y="416.00" font-size="13.1" text-anchor="start" fill="#000" stroke="#000" stroke-width="0.18" >Retention time, min</text>
<polyline points="291.0,358.6 325.0,358.6 350.0,357.4 370.0,355.4 381.0,353.6 382.4,352.4 384.0,353.6 392.0,351.6 395.0,351.2 399.7,348.9 403.8,345.4 406.7,341.3 409.0,336.1 411.4,329.1 412.5,326.4 413.1,331.4 413.9,340.7 414.6,344.2 415.8,338.4 416.6,335.5 417.4,336.1 418.4,340.7 419.5,343.1 421.3,342.5 422.4,343.6 423.6,341.9 425.9,343.1 427.1,344.2 428.9,343.1 430.0,346.6 431.2,352.4 432.4,355.9 435.3,356.5 438.2,357.7 445.2,357.7 447.0,358.2 451.1,357.7 455.7,358.2 465.1,358.0 475.0,357.3 486.0,357.6" fill="none" stroke="#5fae5f" stroke-width="0.85" stroke-linejoin="round"/>
<polyline points="291.0,343.6 305.0,343.2 310.0,343.8 330.0,342.8 350.0,341.6 370.0,340.6 381.0,338.0 383.0,336.6 384.4,338.0 392.0,336.0 395.0,336.6 399.7,334.3 403.8,330.8 406.7,326.7 409.0,320.9 410.8,313.9 412.3,306.3 413.1,305.7 413.7,309.2 414.3,318.5 415.4,323.8 416.6,321.5 418.4,320.9 419.8,323.2 420.9,322.6 422.4,329.1 424.2,334.9 425.9,340.1 427.7,341.9 430.0,341.3 434.7,341.3 439.4,340.7 441.7,341.9 446.4,342.5 449.9,343.1 460.4,343.1 465.1,342.5 475.0,343.1 486.0,343.2" fill="none" stroke="#ffad66" stroke-width="0.85" stroke-linejoin="round"/>
<polyline points="291.0,328.4 325.0,328.2 350.0,327.4 370.0,326.6 378.0,325.6 379.0,324.4 381.0,325.6 390.0,324.0 395.0,322.6 399.7,320.3 403.8,317.4 406.7,313.9 408.4,310.4 409.9,307.1 410.8,313.9 411.4,321.5 412.5,323.2 414.3,323.2 415.4,319.7 416.6,312.7 417.4,311.3 418.4,315.0 419.2,319.7 420.7,321.1 423.6,321.5 426.5,320.6 428.9,322.0 432.4,322.6 434.7,322.3 435.9,324.4 437.6,326.7 440.0,326.7 441.7,327.3 443.5,328.1 475.0,328.1 486.0,328.2" fill="none" stroke="#6a6aff" stroke-width="0.85" stroke-linejoin="round"/>
<polyline points="291.0,313.2 330.0,313.2 350.0,312.2 370.0,312.0 382.0,309.4 386.0,308.6 390.0,309.2 395.0,308.0 399.7,306.3 403.8,303.9 406.7,301.0 407.7,299.4 410.7,293.5 412.7,284.6 413.9,272.8 414.8,263.9 415.5,258.6 416.3,263.9 416.6,272.8 416.9,281.7 417.5,284.0 418.4,284.6 419.0,290.6 419.9,296.5 421.9,303.9 423.0,303.4 424.8,298.7 425.9,299.9 427.7,305.1 429.5,308.6 431.2,308.6 433.0,305.1 434.5,296.9 435.4,295.4 436.3,296.4 437.3,300.4 438.4,305.7 440.0,308.0 441.7,309.8 444.1,311.5 447.6,312.1 455.7,313.3 475.0,313.3 486.0,313.2" fill="none" stroke="#ff55ee" stroke-width="0.85" stroke-linejoin="round"/>
<polyline points="291.0,298.0 329.0,298.0 335.0,296.6 340.0,295.8 346.0,295.8 349.0,297.6 360.0,297.4 370.0,297.4 382.0,296.0 386.0,296.4 392.0,295.6 395.0,295.2 400.0,293.5 404.7,291.1 408.3,288.2 410.1,284.6 411.3,278.7 412.4,269.8 413.3,260.9 413.7,255.0 415.0,236.1 416.1,225.5 416.6,222.6 417.1,236.1 417.6,255.0 418.4,263.9 418.8,275.7 419.1,283.4 419.6,288.2 420.4,288.8 422.5,292.3 423.7,292.6 425.5,290.9 426.4,292.0 427.9,294.4 430.8,296.2 433.8,296.5 436.7,295.3 440.5,296.9 445.2,298.1 449.9,297.5 453.4,296.7 456.3,296.7 459.2,297.5 475.0,297.5 486.0,297.5" fill="none" stroke="#6a6a6a" stroke-width="0.85" stroke-linejoin="round"/>
<text x="294.60" y="309.60" font-size="10.9" text-anchor="start" fill="#000" textLength="59.4" lengthAdjust="spacingAndGlyphs" stroke="#000" stroke-width="0.18" >Broth + corn</text>
<text x="294.60" y="326.50" font-size="11.1" text-anchor="start" fill="#ff3fe0" textLength="69.6" lengthAdjust="spacingAndGlyphs" stroke="#ff3fe0" stroke-width="0.2">Farm A + corn</text>
<text x="294.60" y="341.60" font-size="11.1" text-anchor="start" fill="#2f7fd6" textLength="69.6" lengthAdjust="spacingAndGlyphs" stroke="#2f7fd6" stroke-width="0.2">Farm B + corn</text>
<text x="294.60" y="356.60" font-size="11.1" text-anchor="start" fill="#dca62a" textLength="69.6" lengthAdjust="spacingAndGlyphs" stroke="#dca62a" stroke-width="0.2">Farm C + corn</text>
<text x="294.60" y="371.60" font-size="11.1" text-anchor="start" fill="#3fbf3f" textLength="69.6" lengthAdjust="spacingAndGlyphs" stroke="#3fbf3f" stroke-width="0.2">Farm D + corn</text>
<text x="497.80" y="216.50" font-size="22.4" text-anchor="start" fill="#000" font-weight="bold" >E</text>
<line x1="594.40" y1="233.60" x2="594.40" y2="253.00" stroke="#222" stroke-width="0.8" stroke-linecap="butt"/>
<line x1="591.40" y1="233.60" x2="597.40" y2="233.60" stroke="#222" stroke-width="0.8" stroke-linecap="butt"/>
<line x1="591.40" y1="253.00" x2="597.40" y2="253.00" stroke="#222" stroke-width="0.8" stroke-linecap="butt"/>
<line x1="611.20" y1="273.70" x2="611.20" y2="287.00" stroke="#222" stroke-width="0.8" stroke-linecap="butt"/>
<line x1="608.20" y1="273.70" x2="614.20" y2="273.70" stroke="#222" stroke-width="0.8" stroke-linecap="butt"/>
<line x1="608.20" y1="287.00" x2="614.20" y2="287.00" stroke="#222" stroke-width="0.8" stroke-linecap="butt"/>
<line x1="627.80" y1="288.00" x2="627.80" y2="296.00" stroke="#222" stroke-width="0.8" stroke-linecap="butt"/>
<line x1="624.80" y1="288.00" x2="630.80" y2="288.00" stroke="#222" stroke-width="0.8" stroke-linecap="butt"/>
<line x1="624.80" y1="296.00" x2="630.80" y2="296.00" stroke="#222" stroke-width="0.8" stroke-linecap="butt"/>
<line x1="644.40" y1="296.70" x2="644.40" y2="315.00" stroke="#222" stroke-width="0.8" stroke-linecap="butt"/>
<line x1="641.40" y1="296.70" x2="647.40" y2="296.70" stroke="#222" stroke-width="0.8" stroke-linecap="butt"/>
<line x1="641.40" y1="315.00" x2="647.40" y2="315.00" stroke="#222" stroke-width="0.8" stroke-linecap="butt"/>
<line x1="661.40" y1="293.20" x2="661.40" y2="304.00" stroke="#222" stroke-width="0.8" stroke-linecap="butt"/>
<line x1="661.40" y1="293.20" x2="661.40" y2="293.20" stroke="#222" stroke-width="0.8" stroke-linecap="butt"/>
<line x1="661.40" y1="304.00" x2="661.40" y2="304.00" stroke="#222" stroke-width="0.8" stroke-linecap="butt"/>
<rect x="588.00" y="243.00" width="13.00" height="130.45" fill="#333333" stroke="#444" stroke-width="0.9"/>
<rect x="604.60" y="280.40" width="13.00" height="93.05" fill="#ffa0a3" stroke="#444" stroke-width="0.9"/>
<rect x="621.20" y="292.00" width="13.00" height="81.45" fill="#0000c0" stroke="#444" stroke-width="0.9"/>
<rect x="637.80" y="306.00" width="13.00" height="67.45" fill="#ffa040" stroke="#444" stroke-width="0.9"/>
<rect x="654.40" y="298.60" width="13.00" height="74.85" fill="#00bb10" stroke="#444" stroke-width="0.9"/>
<line x1="581.00" y1="217.90" x2="581.00" y2="373.95" stroke="#2a2a2a" stroke-width="1.0" stroke-linecap="butt"/>
<line x1="575.00" y1="373.45" x2="581.00" y2="373.45" stroke="#2a2a2a" stroke-width="1.0" stroke-linecap="butt"/>
<text x="572.20" y="377.95" font-size="13" text-anchor="end" fill="#000" stroke="#000" stroke-width="0.18" >0</text>
<line x1="575.00" y1="321.77" x2="581.00" y2="321.77" stroke="#2a2a2a" stroke-width="1.0" stroke-linecap="butt"/>
<text x="572.20" y="326.27" font-size="13" text-anchor="end" fill="#000" stroke="#000" stroke-width="0.18" >500000</text>
<line x1="575.00" y1="270.09" x2="581.00" y2="270.09" stroke="#2a2a2a" stroke-width="1.0" stroke-linecap="butt"/>
<text x="572.20" y="274.59" font-size="13" text-anchor="end" fill="#000" stroke="#000" stroke-width="0.18" >1000000</text>
<line x1="575.00" y1="218.41" x2="581.00" y2="218.41" stroke="#2a2a2a" stroke-width="1.0" stroke-linecap="butt"/>
<text x="572.20" y="222.91" font-size="13" text-anchor="end" fill="#000" stroke="#000" stroke-width="0.18" >1500000</text>
<line x1="580.50" y1="373.45" x2="675.00" y2="373.45" stroke="#2a2a2a" stroke-width="1.0" stroke-linecap="butt"/>
<circle cx="594.40" cy="235.30" r="1.7" fill="#fff" stroke="#222" stroke-width="0.8"/>
<circle cx="594.40" cy="241.00" r="1.7" fill="#fff" stroke="#222" stroke-width="0.8"/>
<circle cx="594.40" cy="253.70" r="1.7" fill="#fff" stroke="#222" stroke-width="0.8"/>
<circle cx="611.20" cy="275.20" r="1.7" fill="#fff" stroke="#222" stroke-width="0.8"/>
<circle cx="611.20" cy="278.00" r="1.7" fill="#fff" stroke="#222" stroke-width="0.8"/>
<circle cx="611.20" cy="286.50" r="1.7" fill="#fff" stroke="#222" stroke-width="0.8"/>
<circle cx="624.50" cy="288.50" r="1.7" fill="#fff" stroke="#222" stroke-width="0.8"/>
<circle cx="630.50" cy="289.80" r="1.7" fill="#fff" stroke="#222" stroke-width="0.8"/>
<circle cx="627.80" cy="297.00" r="1.7" fill="#fff" stroke="#222" stroke-width="0.8"/>
<circle cx="644.40" cy="298.00" r="1.7" fill="#fff" stroke="#222" stroke-width="0.8"/>
<circle cx="644.40" cy="303.80" r="1.7" fill="#fff" stroke="#222" stroke-width="0.8"/>
<circle cx="644.40" cy="315.60" r="1.7" fill="#fff" stroke="#222" stroke-width="0.8"/>
<circle cx="661.40" cy="293.20" r="1.7" fill="#fff" stroke="#222" stroke-width="0.8"/>
<circle cx="658.10" cy="302.70" r="1.7" fill="#fff" stroke="#222" stroke-width="0.8"/>
<circle cx="664.30" cy="300.10" r="1.7" fill="#fff" stroke="#222" stroke-width="0.8"/>
<line x1="608.40" y1="234.50" x2="663.40" y2="234.50" stroke="#2a2a2a" stroke-width="0.9" stroke-linecap="butt"/>
<line x1="608.50" y1="231.20" x2="608.50" y2="237.80" stroke="#2a2a2a" stroke-width="0.9" stroke-linecap="butt"/>
<line x1="663.50" y1="231.20" x2="663.50" y2="237.80" stroke="#2a2a2a" stroke-width="0.9" stroke-linecap="butt"/>
<text x="613.00" y="230.60" font-size="11.6" text-anchor="start" fill="#000" textLength="40" lengthAdjust="spacingAndGlyphs" stroke="#000" stroke-width="0.18" ><tspan font-style="italic">P</tspan> &lt; 0.05</text>
<text x="599.40" y="381.50" font-size="13.25" text-anchor="end" fill="#000" transform="rotate(-90 599.40 381.50)" stroke="#000" stroke-width="0.18" >Broth + Corn</text>
<text x="616.00" y="381.50" font-size="13.25" text-anchor="end" fill="#000" transform="rotate(-90 616.00 381.50)" stroke="#000" stroke-width="0.18" >Farm A</text>
<text x="632.60" y="381.50" font-size="13.25" text-anchor="end" fill="#000" transform="rotate(-90 632.60 381.50)" stroke="#000" stroke-width="0.18" >Farm B</text>
<text x="649.20" y="381.50" font-size="13.25" text-anchor="end" fill="#000" transform="rotate(-90 649.20 381.50)" stroke="#000" stroke-width="0.18" >Farm C</text>
<text x="665.80" y="381.50" font-size="13.25" text-anchor="end" fill="#000" transform="rotate(-90 665.80 381.50)" stroke="#000" stroke-width="0.18" >Farm D</text>
<text x="514.80" y="295.50" font-size="13.3" text-anchor="middle" fill="#000" transform="rotate(-90 514.80 295.50)" stroke="#000" stroke-width="0.18" >Void peak (DP &lt; 9)</text>
<text x="9.20" y="488.30" font-size="22.4" text-anchor="start" fill="#000" font-weight="bold" >F</text>
<rect x="65.80" y="608.40" width="14.20" height="47.60" fill="#8c8cff" stroke="#4a4a4a" stroke-width="0.9"/>
<rect x="82.60" y="540.40" width="14.20" height="115.60" fill="#ffa0a3" stroke="#4a4a4a" stroke-width="0.9"/>
<line x1="58.00" y1="499.90" x2="58.00" y2="656.50" stroke="#2a2a2a" stroke-width="1.0" stroke-linecap="butt"/>
<line x1="51.60" y1="656.00" x2="58.00" y2="656.00" stroke="#2a2a2a" stroke-width="1.0" stroke-linecap="butt"/>
<text x="49.40" y="660.50" font-size="12.7" text-anchor="end" fill="#000" stroke="#000" stroke-width="0.18" >0</text>
<line x1="51.60" y1="617.10" x2="58.00" y2="617.10" stroke="#2a2a2a" stroke-width="1.0" stroke-linecap="butt"/>
<text x="49.40" y="621.60" font-size="12.7" text-anchor="end" fill="#000" stroke="#000" stroke-width="0.18" >50</text>
<line x1="51.60" y1="578.20" x2="58.00" y2="578.20" stroke="#2a2a2a" stroke-width="1.0" stroke-linecap="butt"/>
<text x="49.40" y="582.70" font-size="12.7" text-anchor="end" fill="#000" stroke="#000" stroke-width="0.18" >100</text>
<line x1="51.60" y1="539.30" x2="58.00" y2="539.30" stroke="#2a2a2a" stroke-width="1.0" stroke-linecap="butt"/>
<text x="49.40" y="543.80" font-size="12.7" text-anchor="end" fill="#000" stroke="#000" stroke-width="0.18" >150</text>
<line x1="51.60" y1="500.40" x2="58.00" y2="500.40" stroke="#2a2a2a" stroke-width="1.0" stroke-linecap="butt"/>
<text x="49.40" y="504.90" font-size="12.7" text-anchor="end" fill="#000" stroke="#000" stroke-width="0.18" >200</text>
<line x1="57.50" y1="656.00" x2="104.40" y2="656.00" stroke="#2a2a2a" stroke-width="1.0" stroke-linecap="butt"/>
<line x1="73.00" y1="656.00" x2="73.00" y2="662.40" stroke="#2a2a2a" stroke-width="1.0" stroke-linecap="butt"/>
<line x1="89.60" y1="656.00" x2="89.60" y2="662.40" stroke="#2a2a2a" stroke-width="1.0" stroke-linecap="butt"/>
<line x1="73.00" y1="590.00" x2="73.00" y2="626.40" stroke="#2a2a2a" stroke-width="0.9" stroke-linecap="butt"/>
<line x1="69.60" y1="590.00" x2="76.40" y2="590.00" stroke="#2a2a2a" stroke-width="0.9" stroke-linecap="butt"/>
<line x1="69.60" y1="626.40" x2="76.40" y2="626.40" stroke="#2a2a2a" stroke-width="0.9" stroke-linecap="butt"/>
<line x1="89.60" y1="516.40" x2="89.60" y2="562.00" stroke="#2a2a2a" stroke-width="0.9" stroke-linecap="butt"/>
<line x1="86.20" y1="516.40" x2="93.00" y2="516.40" stroke="#2a2a2a" stroke-width="0.9" stroke-linecap="butt"/>
<line x1="86.20" y1="562.00" x2="93.00" y2="562.00" stroke="#2a2a2a" stroke-width="0.9" stroke-linecap="butt"/>
<circle cx="73.00" cy="587.40" r="2.3" fill="#fff" stroke="#222" stroke-width="0.85"/>
<circle cx="73.00" cy="616.00" r="2.3" fill="#fff" stroke="#222" stroke-width="0.85"/>
<circle cx="73.00" cy="621.60" r="2.3" fill="#fff" stroke="#222" stroke-width="0.85"/>
<circle cx="89.60" cy="516.40" r="2.3" fill="#fff" stroke="#222" stroke-width="0.85"/>
<circle cx="89.60" cy="544.40" r="2.3" fill="#fff" stroke="#222" stroke-width="0.85"/>
<circle cx="89.60" cy="559.60" r="2.3" fill="#fff" stroke="#222" stroke-width="0.85"/>
<text x="55.60" y="491.80" font-size="11.6" text-anchor="start" fill="#000" textLength="52.4" lengthAdjust="spacingAndGlyphs" stroke="#000" stroke-width="0.18" ><tspan font-style="italic">P</tspan> = 0.0143</text>
<line x1="73.00" y1="501.40" x2="89.60" y2="501.40" stroke="#222" stroke-width="1.7" stroke-linecap="butt"/>
<text x="77.20" y="665.00" font-size="12.7" text-anchor="end" fill="#000" transform="rotate(-90 77.20 665.00)" stroke="#000" stroke-width="0.18" >Corn (-)</text>
<text x="94.00" y="665.00" font-size="12.7" text-anchor="end" fill="#000" transform="rotate(-90 94.00 665.00)" stroke="#000" stroke-width="0.18" >Corn (+)</text>
<text x="19.20" y="570.50" font-size="12.9" text-anchor="middle" fill="#000" transform="rotate(-90 19.20 570.50)" stroke="#000" stroke-width="0.18" >Trp, µmol/L</text>
<rect x="167.20" y="532.00" width="14.40" height="124.00" fill="#8c8cff" stroke="#4a4a4a" stroke-width="0.9"/>
<rect x="184.60" y="628.00" width="14.20" height="28.00" fill="#ffa0a3" stroke="#4a4a4a" stroke-width="0.9"/>
<line x1="159.30" y1="499.90" x2="159.30" y2="656.50" stroke="#2a2a2a" stroke-width="1.0" stroke-linecap="butt"/>
<line x1="152.90" y1="656.00" x2="159.30" y2="656.00" stroke="#2a2a2a" stroke-width="1.0" stroke-linecap="butt"/>
<text x="150.70" y="660.50" font-size="12.7" text-anchor="end" fill="#000" stroke="#000" stroke-width="0.18" >0</text>
<line x1="152.90" y1="604.13" x2="159.30" y2="604.13" stroke="#2a2a2a" stroke-width="1.0" stroke-linecap="butt"/>
<text x="150.70" y="608.63" font-size="12.7" text-anchor="end" fill="#000" stroke="#000" stroke-width="0.18" >20</text>
<line x1="152.90" y1="552.26" x2="159.30" y2="552.26" stroke="#2a2a2a" stroke-width="1.0" stroke-linecap="butt"/>
<text x="150.70" y="556.76" font-size="12.7" text-anchor="end" fill="#000" stroke="#000" stroke-width="0.18" >40</text>
<line x1="152.90" y1="500.39" x2="159.30" y2="500.39" stroke="#2a2a2a" stroke-width="1.0" stroke-linecap="butt"/>
<text x="150.70" y="504.89" font-size="12.7" text-anchor="end" fill="#000" stroke="#000" stroke-width="0.18" >60</text>
<line x1="158.80" y1="656.00" x2="207.00" y2="656.00" stroke="#2a2a2a" stroke-width="1.0" stroke-linecap="butt"/>
<line x1="174.40" y1="656.00" x2="174.40" y2="662.40" stroke="#2a2a2a" stroke-width="1.0" stroke-linecap="butt"/>
<line x1="191.60" y1="656.00" x2="191.60" y2="662.40" stroke="#2a2a2a" stroke-width="1.0" stroke-linecap="butt"/>
<line x1="174.20" y1="511.40" x2="174.20" y2="556.00" stroke="#2a2a2a" stroke-width="0.9" stroke-linecap="butt"/>
<line x1="174.20" y1="511.40" x2="174.20" y2="511.40" stroke="#2a2a2a" stroke-width="0.9" stroke-linecap="butt"/>
<line x1="174.20" y1="556.00" x2="174.20" y2="556.00" stroke="#2a2a2a" stroke-width="0.9" stroke-linecap="butt"/>
<line x1="191.60" y1="615.00" x2="191.60" y2="643.00" stroke="#2a2a2a" stroke-width="0.9" stroke-linecap="butt"/>
<line x1="191.60" y1="615.00" x2="191.60" y2="615.00" stroke="#2a2a2a" stroke-width="0.9" stroke-linecap="butt"/>
<line x1="191.60" y1="643.00" x2="191.60" y2="643.00" stroke="#2a2a2a" stroke-width="0.9" stroke-linecap="butt"/>
<circle cx="174.20" cy="511.40" r="3.05" fill="#fff" stroke="#222" stroke-width="0.95"/>
<circle cx="174.20" cy="528.60" r="3.05" fill="#fff" stroke="#222" stroke-width="0.95"/>
<circle cx="174.20" cy="556.00" r="3.05" fill="#fff" stroke="#222" stroke-width="0.95"/>
<circle cx="191.60" cy="615.00" r="3.05" fill="#fff" stroke="#222" stroke-width="0.95"/>
<circle cx="191.60" cy="626.00" r="3.05" fill="#fff" stroke="#222" stroke-width="0.95"/>
<circle cx="191.60" cy="643.00" r="3.05" fill="#fff" stroke="#222" stroke-width="0.95"/>
<text x="156.00" y="493.00" font-size="11.6" text-anchor="start" fill="#000" textLength="52" lengthAdjust="spacingAndGlyphs" stroke="#000" stroke-width="0.18" ><tspan font-style="italic">P</tspan> = 0.0033</text>
<line x1="174.40" y1="501.20" x2="191.00" y2="501.20" stroke="#222" stroke-width="1.7" stroke-linecap="butt"/>
<text x="178.60" y="665.00" font-size="12.7" text-anchor="end" fill="#000" transform="rotate(-90 178.60 665.00)" stroke="#000" stroke-width="0.18" >Corn (-)</text>
<text x="195.60" y="665.00" font-size="12.7" text-anchor="end" fill="#000" transform="rotate(-90 195.60 665.00)" stroke="#000" stroke-width="0.18" >Corn (+)</text>
<text x="128.10" y="570.50" font-size="12.9" text-anchor="middle" fill="#000" transform="rotate(-90 128.10 570.50)" stroke="#000" stroke-width="0.18" >Indole, µmol/L</text>
<text x="235.60" y="488.50" font-size="22.4" text-anchor="start" fill="#000" font-weight="bold" >G</text>
<rect x="304.80" y="564.40" width="18.20" height="91.10" fill="#8c8cff" stroke="#4a4a4a" stroke-width="0.9"/>
<rect x="327.80" y="633.00" width="18.60" height="22.50" fill="#ffa0a3" stroke="#4a4a4a" stroke-width="0.9"/>
<line x1="294.50" y1="499.90" x2="294.50" y2="656.00" stroke="#2a2a2a" stroke-width="1.0" stroke-linecap="butt"/>
<line x1="287.90" y1="655.50" x2="294.50" y2="655.50" stroke="#2a2a2a" stroke-width="1.0" stroke-linecap="butt"/>
<text x="285.70" y="660.00" font-size="12.7" text-anchor="end" fill="#000" stroke="#000" stroke-width="0.18" >0.0</text>
<line x1="287.90" y1="624.48" x2="294.50" y2="624.48" stroke="#2a2a2a" stroke-width="1.0" stroke-linecap="butt"/>
<text x="285.70" y="628.98" font-size="12.7" text-anchor="end" fill="#000" stroke="#000" stroke-width="0.18" >0.5</text>
<line x1="287.90" y1="593.46" x2="294.50" y2="593.46" stroke="#2a2a2a" stroke-width="1.0" stroke-linecap="butt"/>
<text x="285.70" y="597.96" font-size="12.7" text-anchor="end" fill="#000" stroke="#000" stroke-width="0.18" >1.0</text>
<line x1="287.90" y1="562.44" x2="294.50" y2="562.44" stroke="#2a2a2a" stroke-width="1.0" stroke-linecap="butt"/>
<text x="285.70" y="566.94" font-size="12.7" text-anchor="end" fill="#000" stroke="#000" stroke-width="0.18" >1.5</text>
<line x1="287.90" y1="531.42" x2="294.50" y2="531.42" stroke="#2a2a2a" stroke-width="1.0" stroke-linecap="butt"/>
<text x="285.70" y="535.92" font-size="12.7" text-anchor="end" fill="#000" stroke="#000" stroke-width="0.18" >2.0</text>
<line x1="287.90" y1="500.40" x2="294.50" y2="500.40" stroke="#2a2a2a" stroke-width="1.0" stroke-linecap="butt"/>
<text x="285.70" y="504.90" font-size="12.7" text-anchor="end" fill="#000" stroke="#000" stroke-width="0.18" >2.5</text>
<line x1="294.00" y1="655.50" x2="356.40" y2="655.50" stroke="#2a2a2a" stroke-width="1.0" stroke-linecap="butt"/>
<line x1="314.00" y1="655.50" x2="314.00" y2="661.50" stroke="#2a2a2a" stroke-width="1.0" stroke-linecap="butt"/>
<line x1="337.00" y1="655.50" x2="337.00" y2="661.50" stroke="#2a2a2a" stroke-width="1.0" stroke-linecap="butt"/>
<line x1="314.00" y1="533.60" x2="314.00" y2="592.40" stroke="#2a2a2a" stroke-width="0.9" stroke-linecap="butt"/>
<line x1="310.80" y1="533.60" x2="317.20" y2="533.60" stroke="#2a2a2a" stroke-width="0.9" stroke-linecap="butt"/>
<line x1="310.80" y1="592.40" x2="317.20" y2="592.40" stroke="#2a2a2a" stroke-width="0.9" stroke-linecap="butt"/>
<circle cx="314.00" cy="533.60" r="2.95" fill="#fff" stroke="#222" stroke-width="0.95"/>
<circle cx="314.00" cy="567.60" r="2.95" fill="#fff" stroke="#222" stroke-width="0.95"/>
<circle cx="314.00" cy="592.40" r="2.95" fill="#fff" stroke="#222" stroke-width="0.95"/>
<circle cx="331.00" cy="633.20" r="2.95" fill="#fff" stroke="#222" stroke-width="0.95"/>
<circle cx="337.40" cy="629.60" r="2.95" fill="#fff" stroke="#222" stroke-width="0.95"/>
<circle cx="343.60" cy="632.00" r="2.95" fill="#fff" stroke="#222" stroke-width="0.95"/>
<text x="304.00" y="504.00" font-size="11.6" text-anchor="start" fill="#000" textLength="52.4" lengthAdjust="spacingAndGlyphs" stroke="#000" stroke-width="0.18" ><tspan font-style="italic">P</tspan> = 0.0172</text>
<line x1="314.00" y1="514.40" x2="337.00" y2="514.40" stroke="#444" stroke-width="0.9" stroke-linecap="butt"/>
<text x="318.60" y="664.00" font-size="12.7" text-anchor="end" fill="#000" transform="rotate(-90 318.60 664.00)" stroke="#000" stroke-width="0.18" >Corn (-)</text>
<text x="341.60" y="664.00" font-size="12.7" text-anchor="end" fill="#000" transform="rotate(-90 341.60 664.00)" stroke="#000" stroke-width="0.18" >Corn (+)</text>
<line x1="295.00" y1="716.40" x2="355.00" y2="716.40" stroke="#2a2a2a" stroke-width="0.9" stroke-linecap="butt"/>
<text x="275.80" y="733.00" font-size="13" text-anchor="start" fill="#000" font-style="italic" stroke="#000" stroke-width="0.18" >E. coli + P. copri</text>
<text x="245.00" y="578.00" font-size="12.9" text-anchor="middle" fill="#000" transform="rotate(-90 245.00 578.00)" stroke="#000" stroke-width="0.18" ><tspan font-style="italic">tnaA</tspan> expression</text>
<text x="260.60" y="577.60" font-size="13.05" text-anchor="middle" fill="#000" transform="rotate(-90 260.60 577.60)" stroke="#000" stroke-width="0.18" >relative to 16S rRNA (<tspan font-style="italic">E. coli)</tspan></text>
<text x="371.80" y="488.30" font-size="22.4" text-anchor="start" fill="#000" font-weight="bold" >H</text>
<line x1="463.90" y1="551.00" x2="463.90" y2="565.00" stroke="#222" stroke-width="0.8" stroke-linecap="butt"/>
<line x1="463.90" y1="551.00" x2="463.90" y2="551.00" stroke="#222" stroke-width="0.8" stroke-linecap="butt"/>
<line x1="463.90" y1="565.00" x2="463.90" y2="565.00" stroke="#222" stroke-width="0.8" stroke-linecap="butt"/>
<line x1="477.40" y1="563.20" x2="477.40" y2="576.00" stroke="#222" stroke-width="0.8" stroke-linecap="butt"/>
<line x1="475.40" y1="563.20" x2="479.40" y2="563.20" stroke="#222" stroke-width="0.8" stroke-linecap="butt"/>
<line x1="475.40" y1="576.00" x2="479.40" y2="576.00" stroke="#222" stroke-width="0.8" stroke-linecap="butt"/>
<line x1="490.90" y1="582.00" x2="490.90" y2="592.00" stroke="#222" stroke-width="0.8" stroke-linecap="butt"/>
<line x1="488.90" y1="582.00" x2="492.90" y2="582.00" stroke="#222" stroke-width="0.8" stroke-linecap="butt"/>
<line x1="488.90" y1="592.00" x2="492.90" y2="592.00" stroke="#222" stroke-width="0.8" stroke-linecap="butt"/>
<line x1="504.40" y1="597.60" x2="504.40" y2="604.00" stroke="#222" stroke-width="0.8" stroke-linecap="butt"/>
<line x1="502.40" y1="597.60" x2="506.40" y2="597.60" stroke="#222" stroke-width="0.8" stroke-linecap="butt"/>
<line x1="502.40" y1="604.00" x2="506.40" y2="604.00" stroke="#222" stroke-width="0.8" stroke-linecap="butt"/>
<rect x="458.50" y="558.10" width="10.30" height="97.90" fill="#333333" stroke="#444" stroke-width="0.9"/>
<rect x="472.20" y="570.40" width="10.30" height="85.60" fill="#a0f7a0" stroke="#444" stroke-width="0.9"/>
<rect x="485.60" y="587.40" width="10.30" height="68.60" fill="#bcbcff" stroke="#444" stroke-width="0.9"/>
<rect x="499.30" y="601.60" width="10.30" height="54.40" fill="#ffbb77" stroke="#444" stroke-width="0.9"/>
<line x1="453.00" y1="499.90" x2="453.00" y2="656.50" stroke="#2a2a2a" stroke-width="1.0" stroke-linecap="butt"/>
<line x1="446.60" y1="656.00" x2="453.00" y2="656.00" stroke="#2a2a2a" stroke-width="1.0" stroke-linecap="butt"/>
<text x="444.60" y="660.50" font-size="13" text-anchor="end" fill="#000" stroke="#000" stroke-width="0.18" >0</text>
<line x1="446.60" y1="617.10" x2="453.00" y2="617.10" stroke="#2a2a2a" stroke-width="1.0" stroke-linecap="butt"/>
<text x="444.60" y="621.60" font-size="13" text-anchor="end" fill="#000" stroke="#000" stroke-width="0.18" >500000</text>
<line x1="446.60" y1="578.20" x2="453.00" y2="578.20" stroke="#2a2a2a" stroke-width="1.0" stroke-linecap="butt"/>
<text x="444.60" y="582.70" font-size="13" text-anchor="end" fill="#000" stroke="#000" stroke-width="0.18" >1000000</text>
<line x1="446.60" y1="539.30" x2="453.00" y2="539.30" stroke="#2a2a2a" stroke-width="1.0" stroke-linecap="butt"/>
<text x="444.60" y="543.80" font-size="13" text-anchor="end" fill="#000" stroke="#000" stroke-width="0.18" >1500000</text>
<line x1="446.60" y1="500.40" x2="453.00" y2="500.40" stroke="#2a2a2a" stroke-width="1.0" stroke-linecap="butt"/>
<text x="444.60" y="504.90" font-size="13" text-anchor="end" fill="#000" stroke="#000" stroke-width="0.18" >2000000</text>
<line x1="452.50" y1="656.00" x2="515.60" y2="656.00" stroke="#2a2a2a" stroke-width="1.0" stroke-linecap="butt"/>
<line x1="463.60" y1="656.00" x2="463.60" y2="662.00" stroke="#2a2a2a" stroke-width="1.0" stroke-linecap="butt"/>
<line x1="477.40" y1="656.00" x2="477.40" y2="662.00" stroke="#2a2a2a" stroke-width="1.0" stroke-linecap="butt"/>
<line x1="490.80" y1="656.00" x2="490.80" y2="662.00" stroke="#2a2a2a" stroke-width="1.0" stroke-linecap="butt"/>
<line x1="504.50" y1="656.00" x2="504.50" y2="662.00" stroke="#2a2a2a" stroke-width="1.0" stroke-linecap="butt"/>
<circle cx="463.90" cy="551.40" r="2.1" fill="#fff" stroke="#222" stroke-width="0.9"/>
<circle cx="463.90" cy="556.60" r="2.1" fill="#fff" stroke="#222" stroke-width="0.9"/>
<circle cx="463.90" cy="566.10" r="2.1" fill="#fff" stroke="#222" stroke-width="0.9"/>
<circle cx="477.40" cy="563.20" r="2.1" fill="#fff" stroke="#222" stroke-width="0.9"/>
<circle cx="480.30" cy="570.90" r="2.1" fill="#fff" stroke="#222" stroke-width="0.9"/>
<circle cx="474.20" cy="575.30" r="2.1" fill="#fff" stroke="#222" stroke-width="0.9"/>
<circle cx="490.90" cy="581.90" r="2.1" fill="#fff" stroke="#222" stroke-width="0.9"/>
<circle cx="494.00" cy="587.60" r="2.1" fill="#fff" stroke="#222" stroke-width="0.9"/>
<circle cx="487.70" cy="590.40" r="2.1" fill="#fff" stroke="#222" stroke-width="0.9"/>
<circle cx="504.30" cy="597.60" r="2.1" fill="#fff" stroke="#222" stroke-width="0.9"/>
<circle cx="501.30" cy="602.00" r="2.1" fill="#fff" stroke="#222" stroke-width="0.9"/>
<circle cx="507.40" cy="601.30" r="2.1" fill="#fff" stroke="#222" stroke-width="0.9"/>
<text x="461.00" y="491.00" font-size="11.6" text-anchor="start" fill="#000" textLength="51.4" lengthAdjust="spacingAndGlyphs" stroke="#000" stroke-width="0.18" ><tspan font-style="italic">P</tspan> &lt; 0.0001</text>
<line x1="464.00" y1="498.60" x2="504.00" y2="498.60" stroke="#222" stroke-width="1.7" stroke-linecap="butt"/>
<text x="461.00" y="524.20" font-size="11.6" text-anchor="start" fill="#000" textLength="45.4" lengthAdjust="spacingAndGlyphs" stroke="#000" stroke-width="0.18" ><tspan font-style="italic">P</tspan> = 0.001</text>
<line x1="464.00" y1="531.60" x2="491.00" y2="531.60" stroke="#222" stroke-width="1.7" stroke-linecap="butt"/>
<text x="468.60" y="664.40" font-size="13.25" text-anchor="end" fill="#000" transform="rotate(-90 468.60 664.40)" stroke="#000" stroke-width="0.18" >Broth + Corn</text>
<text x="482.20" y="664.40" font-size="13.25" text-anchor="end" fill="#000" transform="rotate(-90 482.20 664.40)" font-style="italic" stroke="#000" stroke-width="0.18" >E. coli</text>
<text x="495.60" y="664.40" font-size="13.25" text-anchor="end" fill="#000" transform="rotate(-90 495.60 664.40)" font-style="italic" stroke="#000" stroke-width="0.18" >P. copri</text>
<text x="509.20" y="664.40" font-size="13.25" text-anchor="end" fill="#000" transform="rotate(-90 509.20 664.40)" font-style="italic" stroke="#000" stroke-width="0.18" >E. coli + P. copri</text>
<text x="385.00" y="577.00" font-size="13.2" text-anchor="middle" fill="#000" transform="rotate(-90 385.00 577.00)" stroke="#000" stroke-width="0.18" >Void peak (DP &gt; 9)</text>
<rect x="544.8" y="472.9" width="4.7" height="15.5" fill="#000"/>
<rect x="595.80" y="596.20" width="18.40" height="59.50" fill="#8abcff" stroke="#444" stroke-width="0.9"/>
<rect x="619.80" y="582.60" width="18.60" height="73.10" fill="#f9a4ea" stroke="#444" stroke-width="0.9"/>
<line x1="585.50" y1="499.90" x2="585.50" y2="656.20" stroke="#2a2a2a" stroke-width="1.0" stroke-linecap="butt"/>
<line x1="579.10" y1="655.70" x2="585.50" y2="655.70" stroke="#2a2a2a" stroke-width="1.0" stroke-linecap="butt"/>
<text x="576.90" y="660.20" font-size="12.7" text-anchor="end" fill="#000" stroke="#000" stroke-width="0.18" >0.0</text>
<line x1="579.10" y1="616.87" x2="585.50" y2="616.87" stroke="#2a2a2a" stroke-width="1.0" stroke-linecap="butt"/>
<text x="576.90" y="621.37" font-size="12.7" text-anchor="end" fill="#000" stroke="#000" stroke-width="0.18" >0.1</text>
<line x1="579.10" y1="578.04" x2="585.50" y2="578.04" stroke="#2a2a2a" stroke-width="1.0" stroke-linecap="butt"/>
<text x="576.90" y="582.54" font-size="12.7" text-anchor="end" fill="#000" stroke="#000" stroke-width="0.18" >0.2</text>
<line x1="579.10" y1="539.21" x2="585.50" y2="539.21" stroke="#2a2a2a" stroke-width="1.0" stroke-linecap="butt"/>
<text x="576.90" y="543.71" font-size="12.7" text-anchor="end" fill="#000" stroke="#000" stroke-width="0.18" >0.3</text>
<line x1="579.10" y1="500.38" x2="585.50" y2="500.38" stroke="#2a2a2a" stroke-width="1.0" stroke-linecap="butt"/>
<text x="576.90" y="504.88" font-size="12.7" text-anchor="end" fill="#000" stroke="#000" stroke-width="0.18" >0.4</text>
<line x1="585.00" y1="655.70" x2="648.00" y2="655.70" stroke="#2a2a2a" stroke-width="1.0" stroke-linecap="butt"/>
<line x1="604.80" y1="655.70" x2="604.80" y2="661.70" stroke="#2a2a2a" stroke-width="1.0" stroke-linecap="butt"/>
<line x1="629.20" y1="655.70" x2="629.20" y2="661.70" stroke="#2a2a2a" stroke-width="1.0" stroke-linecap="butt"/>
<line x1="604.90" y1="571.30" x2="604.90" y2="619.30" stroke="#2a2a2a" stroke-width="0.7" stroke-linecap="butt"/>
<line x1="600.30" y1="571.30" x2="609.50" y2="571.30" stroke="#2a2a2a" stroke-width="0.7" stroke-linecap="butt"/>
<line x1="600.30" y1="619.30" x2="609.50" y2="619.30" stroke="#2a2a2a" stroke-width="0.7" stroke-linecap="butt"/>
<line x1="629.00" y1="555.40" x2="629.00" y2="609.80" stroke="#2a2a2a" stroke-width="0.7" stroke-linecap="butt"/>
<line x1="625.40" y1="555.40" x2="632.60" y2="555.40" stroke="#2a2a2a" stroke-width="0.7" stroke-linecap="butt"/>
<line x1="625.40" y1="609.80" x2="632.60" y2="609.80" stroke="#2a2a2a" stroke-width="0.7" stroke-linecap="butt"/>
<circle cx="602.26" cy="551.46" r="2.15" fill="#fff" stroke="#1a1a1a" stroke-width="0.8"/>
<circle cx="604.71" cy="551.02" r="2.15" fill="#fff" stroke="#1a1a1a" stroke-width="0.8"/>
<circle cx="607.08" cy="554.96" r="2.15" fill="#fff" stroke="#1a1a1a" stroke-width="0.8"/>
<circle cx="604.45" cy="558.03" r="2.15" fill="#fff" stroke="#1a1a1a" stroke-width="0.8"/>
<circle cx="606.20" cy="562.41" r="2.15" fill="#fff" stroke="#1a1a1a" stroke-width="0.8"/>
<circle cx="603.58" cy="565.04" r="2.15" fill="#fff" stroke="#1a1a1a" stroke-width="0.8"/>
<circle cx="606.20" cy="568.54" r="2.15" fill="#fff" stroke="#1a1a1a" stroke-width="0.8"/>
<circle cx="606.20" cy="572.04" r="2.15" fill="#fff" stroke="#1a1a1a" stroke-width="0.8"/>
<circle cx="604.01" cy="575.11" r="2.15" fill="#fff" stroke="#1a1a1a" stroke-width="0.8"/>
<circle cx="606.20" cy="578.17" r="2.15" fill="#fff" stroke="#1a1a1a" stroke-width="0.8"/>
<circle cx="606.20" cy="581.68" r="2.15" fill="#fff" stroke="#1a1a1a" stroke-width="0.8"/>
<circle cx="603.14" cy="585.18" r="2.15" fill="#fff" stroke="#1a1a1a" stroke-width="0.8"/>
<circle cx="603.14" cy="588.68" r="2.15" fill="#fff" stroke="#1a1a1a" stroke-width="0.8"/>
<circle cx="607.08" cy="587.81" r="2.15" fill="#fff" stroke="#1a1a1a" stroke-width="0.8"/>
<circle cx="607.08" cy="593.50" r="2.15" fill="#fff" stroke="#1a1a1a" stroke-width="0.8"/>
<circle cx="602.26" cy="596.57" r="2.15" fill="#fff" stroke="#1a1a1a" stroke-width="0.8"/>
<circle cx="597.45" cy="598.50" r="2.15" fill="#fff" stroke="#1a1a1a" stroke-width="0.8"/>
<circle cx="600.07" cy="600.07" r="2.15" fill="#fff" stroke="#1a1a1a" stroke-width="0.8"/>
<circle cx="608.83" cy="599.63" r="2.15" fill="#fff" stroke="#1a1a1a" stroke-width="0.8"/>
<circle cx="611.90" cy="601.39" r="2.15" fill="#fff" stroke="#1a1a1a" stroke-width="0.8"/>
<circle cx="607.52" cy="603.14" r="2.15" fill="#fff" stroke="#1a1a1a" stroke-width="0.8"/>
<circle cx="603.14" cy="604.45" r="2.15" fill="#fff" stroke="#1a1a1a" stroke-width="0.8"/>
<circle cx="600.07" cy="606.20" r="2.15" fill="#fff" stroke="#1a1a1a" stroke-width="0.8"/>
<circle cx="603.58" cy="608.83" r="2.15" fill="#fff" stroke="#1a1a1a" stroke-width="0.8"/>
<circle cx="600.95" cy="613.82" r="2.15" fill="#fff" stroke="#1a1a1a" stroke-width="0.8"/>
<circle cx="605.77" cy="613.82" r="2.15" fill="#fff" stroke="#1a1a1a" stroke-width="0.8"/>
<circle cx="608.39" cy="615.40" r="2.15" fill="#fff" stroke="#1a1a1a" stroke-width="0.8"/>
<circle cx="604.01" cy="617.15" r="2.15" fill="#fff" stroke="#1a1a1a" stroke-width="0.8"/>
<circle cx="603.58" cy="630.73" r="2.15" fill="#fff" stroke="#1a1a1a" stroke-width="0.8"/>
<circle cx="606.03" cy="632.48" r="2.15" fill="#fff" stroke="#1a1a1a" stroke-width="0.8"/>
<circle cx="604.89" cy="641.68" r="2.15" fill="#fff" stroke="#1a1a1a" stroke-width="0.8"/>
<circle cx="607.08" cy="643.25" r="2.15" fill="#fff" stroke="#1a1a1a" stroke-width="0.8"/>
<circle cx="602.26" cy="645.18" r="2.15" fill="#fff" stroke="#1a1a1a" stroke-width="0.8"/>
<circle cx="624.60" cy="537.45" r="2.15" fill="#fff" stroke="#1a1a1a" stroke-width="0.8"/>
<circle cx="633.36" cy="537.45" r="2.15" fill="#fff" stroke="#1a1a1a" stroke-width="0.8"/>
<circle cx="630.29" cy="539.20" r="2.15" fill="#fff" stroke="#1a1a1a" stroke-width="0.8"/>
<circle cx="627.66" cy="543.58" r="2.15" fill="#fff" stroke="#1a1a1a" stroke-width="0.8"/>
<circle cx="630.47" cy="545.33" r="2.15" fill="#fff" stroke="#1a1a1a" stroke-width="0.8"/>
<circle cx="627.66" cy="549.71" r="2.15" fill="#fff" stroke="#1a1a1a" stroke-width="0.8"/>
<circle cx="630.47" cy="551.46" r="2.15" fill="#fff" stroke="#1a1a1a" stroke-width="0.8"/>
<circle cx="630.47" cy="556.28" r="2.15" fill="#fff" stroke="#1a1a1a" stroke-width="0.8"/>
<circle cx="624.60" cy="560.66" r="2.15" fill="#fff" stroke="#1a1a1a" stroke-width="0.8"/>
<circle cx="627.66" cy="559.34" r="2.15" fill="#fff" stroke="#1a1a1a" stroke-width="0.8"/>
<circle cx="633.36" cy="559.34" r="2.15" fill="#fff" stroke="#1a1a1a" stroke-width="0.8"/>
<circle cx="630.29" cy="562.41" r="2.15" fill="#fff" stroke="#1a1a1a" stroke-width="0.8"/>
<circle cx="627.66" cy="565.47" r="2.15" fill="#fff" stroke="#1a1a1a" stroke-width="0.8"/>
<circle cx="627.66" cy="573.36" r="2.15" fill="#fff" stroke="#1a1a1a" stroke-width="0.8"/>
<circle cx="630.47" cy="576.42" r="2.15" fill="#fff" stroke="#1a1a1a" stroke-width="0.8"/>
<circle cx="627.66" cy="579.93" r="2.15" fill="#fff" stroke="#1a1a1a" stroke-width="0.8"/>
<circle cx="630.29" cy="582.55" r="2.15" fill="#fff" stroke="#1a1a1a" stroke-width="0.8"/>
<circle cx="624.60" cy="584.30" r="2.15" fill="#fff" stroke="#1a1a1a" stroke-width="0.8"/>
<circle cx="633.36" cy="584.30" r="2.15" fill="#fff" stroke="#1a1a1a" stroke-width="0.8"/>
<circle cx="627.66" cy="587.37" r="2.15" fill="#fff" stroke="#1a1a1a" stroke-width="0.8"/>
<circle cx="630.47" cy="589.12" r="2.15" fill="#fff" stroke="#1a1a1a" stroke-width="0.8"/>
<circle cx="630.29" cy="590.00" r="2.15" fill="#fff" stroke="#1a1a1a" stroke-width="0.8"/>
<circle cx="630.29" cy="596.57" r="2.15" fill="#fff" stroke="#1a1a1a" stroke-width="0.8"/>
<circle cx="624.60" cy="598.50" r="2.15" fill="#fff" stroke="#1a1a1a" stroke-width="0.8"/>
<circle cx="630.47" cy="603.14" r="2.15" fill="#fff" stroke="#1a1a1a" stroke-width="0.8"/>
<circle cx="633.36" cy="602.96" r="2.15" fill="#fff" stroke="#1a1a1a" stroke-width="0.8"/>
<circle cx="621.71" cy="606.20" r="2.15" fill="#fff" stroke="#1a1a1a" stroke-width="0.8"/>
<circle cx="624.60" cy="604.45" r="2.15" fill="#fff" stroke="#1a1a1a" stroke-width="0.8"/>
<circle cx="627.66" cy="608.83" r="2.15" fill="#fff" stroke="#1a1a1a" stroke-width="0.8"/>
<circle cx="630.73" cy="608.83" r="2.15" fill="#fff" stroke="#1a1a1a" stroke-width="0.8"/>
<circle cx="636.16" cy="609.09" r="2.15" fill="#fff" stroke="#1a1a1a" stroke-width="0.8"/>
<circle cx="624.60" cy="612.34" r="2.15" fill="#fff" stroke="#1a1a1a" stroke-width="0.8"/>
<circle cx="632.92" cy="612.34" r="2.15" fill="#fff" stroke="#1a1a1a" stroke-width="0.8"/>
<circle cx="629.85" cy="614.09" r="2.15" fill="#fff" stroke="#1a1a1a" stroke-width="0.8"/>
<circle cx="627.23" cy="616.71" r="2.15" fill="#fff" stroke="#1a1a1a" stroke-width="0.8"/>
<circle cx="630.29" cy="620.22" r="2.15" fill="#fff" stroke="#1a1a1a" stroke-width="0.8"/>
<circle cx="628.80" cy="627.93" r="2.15" fill="#fff" stroke="#1a1a1a" stroke-width="0.8"/>
<text x="594.00" y="508.60" font-size="11.6" text-anchor="start" fill="#000" textLength="46" lengthAdjust="spacingAndGlyphs" stroke="#000" stroke-width="0.18" ><tspan font-style="italic">P</tspan> = 0.236</text>
<line x1="605.00" y1="518.60" x2="629.00" y2="518.60" stroke="#222" stroke-width="1.7" stroke-linecap="butt"/>
<text x="609.60" y="664.60" font-size="12.9" text-anchor="end" fill="#000" transform="rotate(-90 609.60 664.60)" stroke="#000" stroke-width="0.18" >Low (&lt; 6.5)</text>
<text x="634.00" y="664.60" font-size="12.9" text-anchor="end" fill="#000" transform="rotate(-90 634.00 664.60)" stroke="#000" stroke-width="0.18" >High (&gt; 8)</text>
<text x="547.60" y="579.00" font-size="13.1" text-anchor="middle" fill="#000" transform="rotate(-90 547.60 579.00)" stroke="#000" stroke-width="0.18" >Trp, mmol/g feces</text>
</svg>
</body></html>
